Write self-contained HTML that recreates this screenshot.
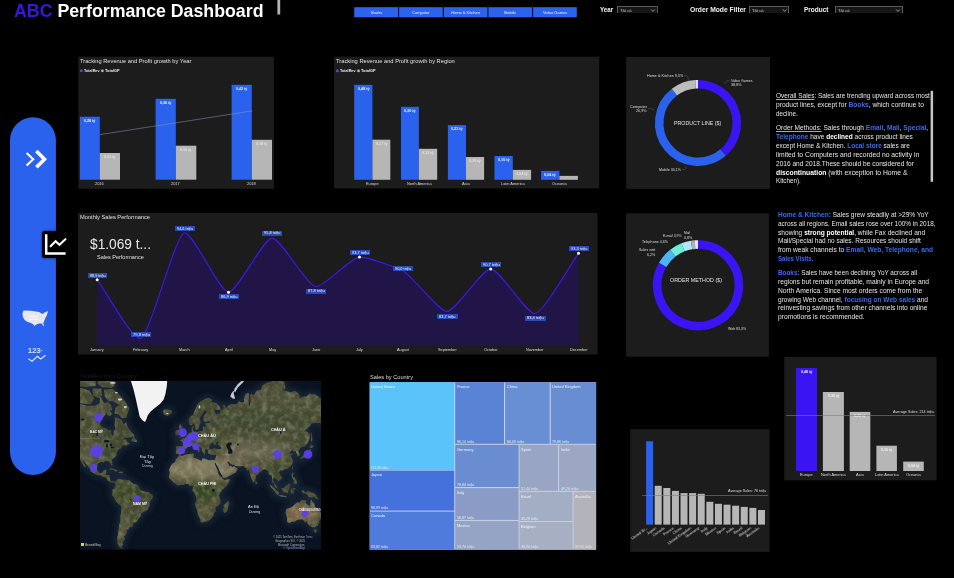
<!DOCTYPE html><html><head><meta charset="utf-8"><title>ABC Performance Dashboard</title><style>
html,body{margin:0;padding:0;background:#000;}body{width:954px;height:578px;position:relative;overflow:hidden;font-family:"Liberation Sans", sans-serif;}
.t{position:absolute;white-space:nowrap;display:inline-block;transform-origin:0 50%;line-height:1.2;}
</style></head><body>
<svg style="position:absolute;left:0;top:0" width="954" height="578"><rect x="277.40" y="0.00" width="2.80" height="14.50" fill="#b4b4b4"/><rect x="354.20" y="7.20" width="44.00" height="10.10" fill="#2b62ee"/><rect x="399.10" y="7.20" width="43.70" height="10.10" fill="#2b62ee"/><rect x="443.80" y="7.20" width="43.70" height="10.10" fill="#2b62ee"/><rect x="488.40" y="7.20" width="43.70" height="10.10" fill="#2b62ee"/><rect x="533.10" y="7.20" width="43.70" height="10.10" fill="#2b62ee"/></svg>
<div style="position:absolute;left:616.9px;top:6.4px;width:40.700000000000045px;height:6.6px;box-sizing:border-box;border:1px solid #5a5a5a;border-bottom:none;background:#161616"></div>
<div style="position:absolute;left:748.9px;top:6.4px;width:40.30000000000007px;height:6.6px;box-sizing:border-box;border:1px solid #5a5a5a;border-bottom:none;background:#161616"></div>
<div style="position:absolute;left:835px;top:6.4px;width:67.60000000000002px;height:6.6px;box-sizing:border-box;border:1px solid #5a5a5a;border-bottom:none;background:#161616"></div>
<svg style="position:absolute;left:0;top:0" width="954" height="578"><rect x="10" y="117.3" width="45.9" height="357.6" rx="22.95" fill="#2a62ee"/></svg>
<div style="position:absolute;left:41.9px;top:231.2px;width:28.4px;height:26.4px;border-radius:2.5px;background:#000;box-shadow:0 0 2.5px rgba(0,0,20,0.7)"></div>
<svg style="position:absolute;left:0;top:0" width="954" height="578"><rect x="78.30" y="56.70" width="195.60" height="132.10" fill="#1c1c1c"/></svg>
<svg style="position:absolute;left:0;top:0" width="954" height="578"><circle cx="81.3" cy="70.8" r="1.4" fill="#2a62ee"/><circle cx="102.4" cy="70.8" r="1.4" fill="#b6b6b6"/></svg>
<svg style="position:absolute;left:0;top:0" width="954" height="578"><rect x="79.90" y="116.70" width="19.90" height="63.00" fill="#2a62ee"/><rect x="99.80" y="153.00" width="20.20" height="26.70" fill="#b6b6b6"/><rect x="155.60" y="98.80" width="20.20" height="80.90" fill="#2a62ee"/><rect x="175.80" y="145.70" width="20.50" height="34.00" fill="#b6b6b6"/><rect x="231.60" y="84.80" width="20.20" height="94.90" fill="#2a62ee"/><rect x="251.80" y="139.80" width="20.20" height="39.90" fill="#b6b6b6"/><rect x="334.10" y="56.70" width="265.10" height="131.70" fill="#1c1c1c"/></svg>
<svg style="position:absolute;left:0;top:0" width="954" height="578"><circle cx="337.4" cy="70.9" r="1.4" fill="#2a62ee"/><circle cx="358.5" cy="70.9" r="1.4" fill="#b6b6b6"/></svg>
<svg style="position:absolute;left:0;top:0" width="954" height="578"><rect x="354.20" y="84.80" width="18.20" height="95.00" fill="#2a62ee"/><rect x="372.40" y="139.70" width="17.90" height="40.10" fill="#b6b6b6"/><rect x="401.00" y="106.80" width="17.90" height="73.00" fill="#2a62ee"/><rect x="418.90" y="148.80" width="18.30" height="31.00" fill="#b6b6b6"/><rect x="447.90" y="125.10" width="18.10" height="54.70" fill="#2a62ee"/><rect x="466.00" y="157.00" width="18.10" height="22.80" fill="#b6b6b6"/><rect x="494.50" y="156.00" width="18.30" height="23.80" fill="#2a62ee"/><rect x="512.80" y="169.90" width="18.30" height="9.90" fill="#b6b6b6"/><rect x="541.10" y="170.90" width="18.30" height="8.90" fill="#2a62ee"/><rect x="559.40" y="175.90" width="18.50" height="3.90" fill="#b6b6b6"/><rect x="626.20" y="57.00" width="143.80" height="131.90" fill="#1c1c1c"/></svg>
<svg style="position:absolute;left:0;top:0" width="954" height="578"><path d="M698.00,84.20 A38.8,38.8 0 0 1 723.10,152.59" fill="none" stroke="#3a14f2" stroke-width="8.5"/><path d="M723.10,152.59 A38.8,38.8 0 1 1 674.38,92.22" fill="none" stroke="#2a62ee" stroke-width="8.5"/><path d="M674.38,92.22 A38.8,38.8 0 0 1 695.56,84.28" fill="none" stroke="#bcbcbc" stroke-width="8.5"/><path d="M695.56,84.28 A38.8,38.8 0 0 1 698.00,84.20" fill="none" stroke="#e4defa" stroke-width="8.5"/></svg>
<svg style="position:absolute;left:0;top:0" width="954" height="578"><rect x="626.10" y="213.30" width="142.80" height="143.40" fill="#1c1c1c"/></svg>
<svg style="position:absolute;left:0;top:0" width="954" height="578"><path d="M698.00,244.50 A40.8,40.8 0 1 1 662.67,264.90" fill="none" stroke="#3a14f2" stroke-width="8.6"/><path d="M662.67,264.90 A40.8,40.8 0 0 1 672.88,253.15" fill="none" stroke="#4db4f4" stroke-width="8.6"/><path d="M672.88,253.15 A40.8,40.8 0 0 1 683.05,247.34" fill="none" stroke="#6eecd8" stroke-width="8.6"/><path d="M683.05,247.34 A40.8,40.8 0 0 1 691.62,245.00" fill="none" stroke="#b2e6fc" stroke-width="8.6"/><path d="M691.62,245.00 A40.8,40.8 0 0 1 695.01,244.61" fill="none" stroke="#b0b0b0" stroke-width="8.6"/><path d="M695.01,244.61 A40.8,40.8 0 0 1 698.00,244.50" fill="none" stroke="#ebe6fb" stroke-width="8.6"/></svg>
<svg style="position:absolute;left:0;top:0" width="954" height="578"><rect x="930.60" y="90.80" width="2.50" height="91.00" fill="#c6c6c6"/><rect x="77.90" y="212.90" width="519.70" height="141.60" fill="#1c1c1c"/></svg>
<svg style="position:absolute;left:0;top:0" width="954" height="578"><path d="M97.2,279.7 C105.80,291.48 131.60,338.60 140.20,338.60 C149.08,338.60 175.72,232.70 184.60,232.70 C193.38,232.70 219.72,292.20 228.50,292.20 C237.22,292.20 263.38,238.10 272.10,238.10 C280.92,238.10 307.38,286.80 316.20,286.80 C324.86,286.80 350.84,257.10 359.50,257.10 C368.22,257.10 394.38,266.87 403.10,271.00 C411.88,275.16 438.22,311.40 447.00,311.40 C455.74,311.40 481.96,268.90 490.70,268.90 C499.48,268.90 525.82,313.50 534.60,313.50 C543.38,313.50 569.72,265.34 578.50,253.30 L578.5,345.5 L97.2,345.5 Z" fill="#211548"/><path d="M97.2,279.7 C105.80,291.48 131.60,338.60 140.20,338.60 C149.08,338.60 175.72,232.70 184.60,232.70 C193.38,232.70 219.72,292.20 228.50,292.20 C237.22,292.20 263.38,238.10 272.10,238.10 C280.92,238.10 307.38,286.80 316.20,286.80 C324.86,286.80 350.84,257.10 359.50,257.10 C368.22,257.10 394.38,266.87 403.10,271.00 C411.88,275.16 438.22,311.40 447.00,311.40 C455.74,311.40 481.96,268.90 490.70,268.90 C499.48,268.90 525.82,313.50 534.60,313.50 C543.38,313.50 569.72,265.34 578.50,253.30" fill="none" stroke="#3d18f0" stroke-width="1.1"/><circle cx="97.2" cy="279.7" r="1.5" fill="#fff"/><circle cx="228.5" cy="292.2" r="1.5" fill="#fff"/><circle cx="359.5" cy="257.1" r="1.5" fill="#fff"/><circle cx="490.7" cy="268.9" r="1.5" fill="#fff"/><circle cx="578.5" cy="253.3" r="1.5" fill="#fff"/></svg>
<svg style="position:absolute;left:79.5px;top:381px" width="241.0" height="168.60000000000002" viewBox="0 0 241.0 168.60000000000002"><defs>
<filter id="b1" x="-10%" y="-10%" width="120%" height="120%"><feGaussianBlur stdDeviation="0.7"/></filter>
<filter id="b4" x="-50%" y="-50%" width="200%" height="200%"><feGaussianBlur stdDeviation="5"/></filter>
<filter id="b2" x="-50%" y="-50%" width="200%" height="200%"><feGaussianBlur stdDeviation="2.5"/></filter>
<filter id="halo" x="-20%" y="-20%" width="140%" height="140%"><feGaussianBlur stdDeviation="3.2"/></filter>
<filter id="noise" x="0" y="0" width="100%" height="100%"><feTurbulence type="fractalNoise" baseFrequency="0.16" numOctaves="3" seed="7"/><feColorMatrix type="matrix" values="0 0 0 0 0.55  0 0 0 0 0.55  0 0 0 0 0.4  1.6 1.6 0 0 -1.35"/></filter>
<clipPath id="land"><path d="M-20.7,19.7 L-7.3,19.7 L1.6,23.5 L7.8,24.7 L15.0,24.7 L19.5,22.2 L20.3,14.2 L23.9,22.2 L28.4,21.0 L31.1,24.7 L32.0,29.3 L27.5,29.3 L25.7,33.5 L21.2,38.4 L19.9,43.4 L22.1,46.2 L25.7,47.1 L28.4,49.0 L31.1,49.4 L31.1,52.5 L32.8,55.0 L33.7,53.9 L33.7,50.2 L35.5,47.9 L34.6,43.7 L35.1,39.3 L34.6,36.5 L38.2,36.9 L41.8,39.3 L43.6,43.7 L46.2,41.1 L47.1,44.6 L48.9,47.9 L50.7,50.2 L53.4,53.2 L54.3,54.7 L50.7,56.4 L45.3,56.5 L42.7,58.8 L46.2,58.2 L46.7,60.8 L49.8,62.1 L50.7,62.1 L47.1,64.0 L45.3,65.3 L44.5,63.4 L41.8,65.3 L41.3,67.1 L38.2,68.8 L36.9,71.8 L36.4,74.5 L34.6,76.2 L32.0,78.8 L32.6,83.4 L32.4,85.2 L31.5,84.6 L30.3,82.4 L29.3,80.4 L27.5,80.1 L24.8,80.2 L23.9,81.4 L21.2,80.7 L17.7,82.4 L17.2,85.4 L17.0,88.4 L18.6,91.2 L19.9,92.0 L22.6,91.7 L23.5,89.3 L26.6,88.8 L26.1,92.2 L25.3,94.0 L29.3,94.2 L29.9,97.7 L29.7,99.1 L32.0,100.6 L33.3,100.0 L35.1,100.9 L34.2,101.8 L32.8,101.8 L30.2,101.1 L27.9,99.5 L26.1,96.8 L23.0,95.9 L20.3,94.0 L17.7,94.2 L14.1,92.6 L10.5,90.3 L10.1,87.9 L7.8,84.9 L6.1,82.9 L3.8,80.4 L2.0,78.8 L3.4,81.4 L6.1,86.4 L4.3,85.4 L2.0,81.9 L0.7,79.4 L-0.4,77.6 L-2.9,75.6 L-4.7,72.9 L-6.4,69.5 L-6.4,62.1 L-5.6,58.8 L-7.3,56.8 L-11.8,49.4 L-16.3,42.9 L-20.7,41.1 Z M23.9,8.7 L32.8,8.1 L40.0,14.2 L44.5,19.7 L49.4,27.0 L48.0,31.8 L46.2,37.0 L41.8,36.9 L38.2,32.9 L34.6,32.5 L35.5,27.0 L39.1,24.0 L33.7,20.2 L28.4,20.2 L24.8,15.6 Z M-8.2,6.4 L1.6,7.1 L9.6,9.7 L14.1,17.0 L10.5,23.2 L0.7,22.2 L-8.2,15.6 Z M17.7,-2.6 L34.6,-2.6 L34.6,4.7 L31.1,6.8 L22.1,6.1 L17.7,3.0 Z M-7.3,-2.6 L15.0,-2.6 L15.9,5.1 L6.1,6.1 L-6.4,4.1 Z M12.3,7.4 L21.2,7.4 L22.1,14.8 L18.6,17.0 L13.2,14.8 Z M26.6,30.3 L29.3,29.3 L32.0,32.5 L30.2,35.1 L27.0,34.1 Z M51.6,59.9 L54.3,60.8 L57.0,61.2 L57.2,59.5 L54.7,57.1 L54.3,54.7 L52.9,56.1 L51.6,59.5 Z M82.9,30.3 L84.6,28.4 L88.2,28.6 L91.3,29.3 L92.2,31.4 L90.0,33.5 L87.3,34.7 L84.2,33.5 Z M35.1,100.9 L37.3,98.6 L40.0,97.7 L40.9,98.6 L43.6,98.6 L47.1,99.1 L49.4,99.1 L50.7,100.9 L53.4,103.1 L56.1,103.3 L58.3,104.5 L59.6,107.2 L59.6,108.5 L61.4,109.4 L65.0,110.7 L68.6,111.2 L71.2,113.0 L73.0,114.8 L73.0,116.6 L71.2,118.8 L69.5,121.1 L69.5,124.4 L68.1,127.7 L66.8,129.6 L64.1,130.4 L61.0,132.6 L60.8,135.1 L58.7,137.6 L56.5,140.8 L54.3,141.9 L52.5,141.4 L53.4,143.6 L52.5,145.8 L48.9,146.4 L48.5,148.7 L46.2,148.7 L47.1,151.1 L45.8,153.6 L44.0,155.5 L45.3,157.5 L42.7,161.6 L43.1,163.8 L40.9,166.0 L43.6,167.6 L40.0,166.8 L37.8,163.1 L36.9,157.5 L38.2,152.3 L38.7,147.5 L39.1,144.1 L40.4,139.8 L40.4,135.6 L41.3,130.6 L41.5,125.3 L39.1,123.4 L36.4,121.1 L35.1,118.8 L33.7,115.7 L32.0,113.9 L32.0,112.3 L32.8,110.7 L32.1,109.4 L32.8,108.1 L34.2,107.2 L35.1,104.9 L35.1,102.2 L34.2,101.8 Z M96.2,72.9 L95.8,71.0 L96.4,68.3 L96.0,65.9 L97.1,65.0 L100.7,65.3 L102.7,65.4 L103.2,62.8 L102.1,60.4 L100.1,59.1 L102.9,58.6 L102.8,57.3 L104.5,57.5 L105.7,56.1 L107.0,55.0 L108.3,53.2 L108.8,52.0 L110.5,51.7 L111.9,51.0 L111.6,48.7 L111.6,46.2 L113.7,45.1 L113.2,47.9 L113.2,50.2 L114.1,51.0 L115.4,50.5 L116.8,51.0 L118.6,50.5 L120.8,49.9 L121.7,50.4 L123.0,49.4 L123.0,46.2 L123.9,45.3 L125.3,46.2 L126.0,44.1 L125.3,42.5 L127.5,42.0 L129.3,41.8 L131.1,41.1 L129.7,40.2 L126.6,40.8 L124.4,41.1 L123.3,39.3 L123.5,35.5 L126.6,31.4 L126.9,30.3 L123.9,29.7 L123.0,32.5 L119.9,36.5 L119.6,39.3 L120.8,41.1 L119.0,45.4 L118.6,47.5 L117.1,48.7 L115.9,48.8 L115.4,47.1 L114.4,43.7 L113.7,42.3 L111.4,44.6 L109.6,43.7 L108.8,41.1 L108.8,37.4 L110.5,35.5 L113.2,33.5 L115.0,29.3 L116.8,24.7 L119.5,21.0 L123.0,19.2 L126.6,17.0 L129.3,17.0 L132.0,18.9 L131.1,21.0 L133.8,21.5 L136.4,22.2 L140.0,25.9 L140.9,28.2 L138.2,29.3 L133.8,28.2 L135.1,31.4 L136.9,33.5 L138.2,32.5 L140.0,32.0 L140.5,29.3 L142.7,28.6 L143.6,27.0 L143.1,23.5 L145.4,24.7 L145.8,27.5 L148.0,24.7 L151.6,22.7 L155.2,23.5 L157.9,22.2 L158.8,20.2 L162.3,21.7 L164.1,21.0 L164.1,17.0 L165.5,12.7 L169.0,12.1 L169.0,17.0 L168.6,23.5 L169.9,24.7 L170.4,19.7 L169.9,14.2 L171.3,12.7 L173.9,14.2 L176.6,9.7 L181.1,8.7 L182.0,4.7 L186.4,1.9 L191.8,0.4 L197.2,-4.7 L199.8,-0.7 L204.3,1.2 L205.6,8.1 L202.5,8.1 L205.2,9.7 L210.6,11.2 L215.0,9.7 L218.6,12.7 L220.4,17.0 L223.1,15.6 L226.6,15.6 L229.3,12.7 L234.7,13.3 L238.2,15.6 L240.9,17.6 L245.4,18.4 L247.2,21.0 L256.1,22.2 L265.0,24.7 L265.0,31.4 L262.3,36.5 L256.1,41.1 L249.8,44.6 L249.0,47.9 L247.2,52.5 L244.0,55.4 L243.1,49.4 L243.1,46.2 L245.4,43.7 L247.2,40.2 L249.8,37.4 L247.2,38.4 L244.0,39.3 L241.8,42.0 L237.3,42.0 L232.0,42.3 L228.4,46.2 L225.3,49.9 L227.5,51.0 L229.8,52.5 L230.2,54.7 L229.3,58.8 L227.5,62.1 L224.8,65.3 L222.2,65.9 L220.8,66.5 L219.9,68.3 L218.3,69.7 L219.8,72.9 L219.5,74.9 L217.3,75.6 L217.1,72.9 L215.9,71.8 L215.9,69.9 L213.0,70.6 L212.8,68.6 L210.6,70.6 L209.4,71.2 L210.6,72.7 L213.5,72.6 L211.4,74.0 L211.0,75.1 L212.3,78.3 L213.2,79.9 L212.8,81.9 L211.4,83.9 L209.7,85.9 L207.9,87.4 L205.6,88.2 L203.4,88.8 L202.2,90.0 L201.0,88.7 L199.6,90.0 L198.7,91.4 L199.8,93.3 L201.6,95.4 L201.9,97.7 L199.8,99.1 L198.3,100.6 L197.9,99.5 L196.3,98.6 L194.5,96.8 L193.6,96.5 L192.9,99.1 L193.9,101.3 L194.9,102.7 L196.4,104.5 L197.2,107.2 L196.7,107.3 L194.7,105.8 L193.9,103.1 L192.2,101.2 L192.2,97.7 L191.4,93.6 L189.6,94.0 L188.5,92.6 L188.2,90.7 L186.4,88.8 L185.5,87.9 L183.8,88.5 L182.0,89.0 L181.5,90.3 L180.2,90.7 L177.8,93.6 L176.0,94.5 L175.7,96.5 L175.5,99.3 L173.9,101.1 L173.0,101.1 L172.2,99.1 L170.8,96.3 L169.9,93.6 L169.3,91.2 L169.2,89.3 L167.2,89.5 L165.9,88.1 L167.1,87.4 L164.6,86.6 L163.7,85.1 L159.7,85.2 L155.5,84.9 L154.7,83.4 L153.0,83.8 L150.3,82.5 L148.9,80.4 L147.6,80.4 L147.2,81.4 L148.9,83.8 L149.4,85.4 L150.1,86.1 L150.4,84.6 L152.5,86.2 L154.3,84.9 L154.7,84.1 L154.7,85.9 L156.7,86.9 L157.7,88.0 L155.9,91.2 L153.4,92.8 L150.7,94.0 L147.6,95.9 L144.5,97.0 L143.1,97.1 L142.4,94.9 L140.9,92.2 L139.1,89.0 L138.7,86.9 L136.0,82.6 L135.4,81.1 L134.9,82.4 L134.2,82.2 L133.3,80.5 L133.1,79.1 L134.9,79.0 L135.5,77.2 L136.3,74.5 L136.4,73.2 L134.6,73.7 L132.9,73.4 L131.5,73.6 L130.2,73.3 L128.8,72.9 L127.8,71.2 L128.0,70.0 L127.7,69.1 L130.2,68.8 L130.5,68.1 L132.4,67.9 L134.2,67.1 L136.0,67.5 L137.3,68.3 L140.0,68.3 L141.3,67.6 L141.3,66.4 L139.6,65.0 L137.8,63.7 L137.8,62.8 L138.5,61.9 L139.1,60.6 L137.3,60.8 L135.5,61.9 L136.9,63.0 L135.5,63.9 L134.2,63.9 L133.6,62.5 L132.4,61.4 L131.5,62.1 L130.8,63.0 L129.8,64.7 L129.2,66.4 L129.5,67.7 L130.2,68.2 L128.8,68.6 L127.7,68.5 L125.7,68.5 L125.3,69.2 L124.6,69.2 L125.1,70.6 L125.7,71.5 L124.8,72.3 L124.8,73.4 L124.2,73.4 L123.5,72.3 L123.0,71.0 L122.0,69.5 L121.7,67.5 L120.8,66.5 L119.0,65.3 L117.7,63.9 L117.1,63.1 L116.5,62.6 L115.3,63.0 L115.4,64.4 L116.4,65.3 L117.2,66.9 L118.6,67.3 L120.8,69.2 L119.5,68.9 L119.1,70.0 L119.5,70.7 L118.6,71.8 L118.3,70.7 L118.1,69.5 L116.8,68.5 L115.4,67.7 L114.1,66.5 L113.5,65.3 L112.3,64.3 L111.0,64.9 L109.6,65.8 L107.9,65.4 L107.1,66.5 L107.0,67.5 L105.0,68.3 L104.1,70.0 L103.8,71.3 L102.5,73.1 L100.3,73.2 L99.4,74.0 L98.7,73.1 L97.6,72.7 Z M99.4,56.8 L101.6,56.1 L105.4,55.1 L105.8,52.9 L104.6,52.5 L104.1,50.5 L102.9,49.0 L102.3,47.9 L102.5,45.4 L100.7,45.1 L101.4,43.6 L99.8,43.6 L98.9,45.4 L99.4,47.9 L99.8,49.4 L101.4,49.6 L101.6,51.7 L100.3,52.2 L100.5,53.5 L99.6,54.2 L101.4,54.8 L100.3,55.4 Z M95.4,54.5 L97.1,54.5 L98.7,53.7 L98.9,51.7 L99.4,50.2 L98.5,49.1 L97.0,49.1 L95.4,50.7 L95.5,52.0 L96.0,53.1 Z M99.1,74.2 L102.5,74.9 L105.2,73.4 L108.8,73.1 L113.2,72.6 L114.1,73.1 L113.4,75.9 L114.1,76.8 L117.7,78.0 L121.3,80.1 L122.1,79.4 L122.1,77.8 L124.8,77.6 L126.6,78.6 L130.2,79.5 L132.0,78.8 L133.1,79.1 L133.3,80.5 L134.2,82.4 L136.0,86.4 L137.3,89.3 L137.6,91.4 L139.1,94.5 L140.9,95.9 L142.9,97.7 L142.7,98.2 L144.5,99.0 L147.2,98.4 L150.0,97.9 L149.8,99.2 L148.0,102.7 L146.7,104.9 L143.6,107.6 L141.3,110.1 L140.0,112.1 L139.1,114.3 L139.6,116.6 L140.5,117.9 L140.5,121.6 L139.1,123.9 L136.9,125.3 L135.5,126.7 L136.0,130.1 L133.8,132.1 L133.6,134.1 L132.0,136.4 L130.2,138.7 L127.5,140.6 L123.9,141.1 L122.0,141.7 L120.6,140.8 L120.4,138.7 L119.0,135.4 L117.7,133.1 L117.2,129.1 L115.4,125.3 L114.8,123.0 L116.3,119.3 L116.2,116.6 L115.2,113.9 L114.6,112.1 L112.6,109.8 L112.8,107.6 L112.9,105.6 L112.1,104.5 L109.6,104.7 L108.3,102.9 L105.6,103.0 L102.9,104.0 L100.7,103.8 L97.6,104.6 L95.8,103.1 L93.6,101.5 L92.4,100.2 L90.9,98.6 L89.4,97.2 L88.8,95.2 L89.6,93.8 L89.8,91.2 L89.1,89.3 L90.0,86.7 L91.3,84.2 L92.7,82.6 L94.5,81.6 L95.5,80.4 L95.6,78.8 L97.6,76.5 L98.7,75.1 Z M148.3,119.3 L149.3,122.5 L148.5,124.4 L147.0,130.6 L144.9,132.1 L143.6,131.1 L143.0,128.6 L143.8,126.3 L143.6,123.9 L145.4,122.8 L147.2,120.9 Z M206.1,128.6 L205.6,132.1 L207.0,136.6 L207.0,141.1 L209.7,141.9 L211.4,140.8 L214.6,140.8 L216.8,139.0 L219.5,138.4 L221.7,138.2 L223.9,139.5 L225.3,141.7 L227.1,139.8 L227.5,142.5 L229.3,144.7 L232.0,146.0 L234.7,146.4 L236.4,145.0 L238.2,144.4 L239.1,140.8 L240.9,137.6 L241.4,134.6 L240.9,131.9 L239.0,129.4 L237.2,126.9 L234.9,125.8 L234.2,122.1 L232.4,121.3 L231.5,118.2 L230.6,120.2 L230.2,124.4 L228.4,124.4 L226.6,122.8 L225.3,122.1 L226.4,119.5 L224.8,119.5 L222.2,118.7 L220.4,120.2 L219.5,122.1 L217.7,121.1 L215.9,122.5 L214.1,123.9 L213.2,125.3 L210.6,126.7 L207.9,127.5 Z M233.5,148.5 L236.6,148.6 L236.4,151.1 L235.1,151.9 L234.0,150.5 Z M189.4,103.5 L191.8,104.9 L194.0,106.7 L196.7,109.4 L198.9,111.2 L198.8,113.7 L197.2,113.4 L195.4,112.1 L194.0,109.8 L192.2,107.6 L190.5,105.8 Z M198.2,114.6 L200.7,114.3 L203.4,114.4 L206.5,115.2 L206.5,116.3 L202.5,115.8 L199.4,115.1 Z M201.6,106.9 L203.4,107.2 L205.2,105.6 L207.4,104.0 L208.8,102.2 L210.6,103.8 L209.7,106.3 L209.7,107.8 L208.3,109.8 L207.9,112.1 L206.1,111.6 L203.9,111.4 L202.5,109.8 L201.6,108.1 Z M211.0,108.1 L212.3,107.4 L215.5,107.3 L215.0,108.2 L212.3,108.2 L212.3,109.4 L214.1,109.4 L213.2,110.7 L213.9,112.5 L212.8,112.8 L211.9,111.2 L211.4,113.4 L211.0,112.1 L210.6,110.7 Z M221.3,109.2 L223.9,109.2 L224.8,111.4 L227.5,110.1 L230.2,110.8 L233.8,112.3 L236.0,113.9 L236.4,115.7 L238.7,117.7 L236.4,117.7 L233.8,115.7 L232.0,116.6 L230.2,116.6 L228.4,115.7 L227.5,113.7 L224.8,112.5 L223.1,112.1 L222.2,110.9 Z M211.9,91.7 L213.4,91.8 L213.2,94.0 L212.8,95.9 L215.0,96.8 L215.0,97.2 L216.4,98.6 L216.4,99.7 L217.3,101.3 L216.8,102.9 L215.0,102.7 L213.2,102.2 L214.4,100.8 L213.7,99.5 L212.8,97.7 L211.9,95.9 L211.4,94.0 Z M220.4,77.2 L221.3,79.0 L222.2,76.9 L224.8,76.6 L226.6,75.5 L228.4,75.1 L230.0,74.3 L230.2,71.8 L231.1,69.9 L230.6,67.9 L229.5,68.3 L229.3,70.0 L228.4,71.8 L226.6,72.9 L225.7,74.0 L223.1,74.5 L221.3,75.9 Z M229.3,67.1 L230.2,65.6 L230.8,62.9 L232.0,64.3 L234.0,65.0 L232.9,65.9 L232.0,67.1 L230.2,66.5 Z M231.1,62.1 L232.4,58.2 L232.0,53.9 L231.5,51.0 L231.1,52.5 L231.1,56.8 L230.9,59.5 Z M211.7,87.9 L212.3,85.4 L213.2,85.4 L212.3,88.4 Z M175.5,99.9 L176.9,100.9 L177.3,102.2 L176.2,103.1 L175.5,102.2 Z M28.4,88.4 L31.1,87.2 L33.7,87.9 L37.3,89.6 L38.0,90.1 L35.1,90.5 L35.1,89.8 L32.8,88.6 L30.2,88.4 Z M37.8,91.7 L40.0,90.4 L42.7,90.7 L43.2,91.7 L40.9,92.2 Z"/></clipPath>
</defs><rect width="241.0" height="168.60000000000002" fill="#0a1321"/><path d="M-20.7,19.7 L-7.3,19.7 L1.6,23.5 L7.8,24.7 L15.0,24.7 L19.5,22.2 L20.3,14.2 L23.9,22.2 L28.4,21.0 L31.1,24.7 L32.0,29.3 L27.5,29.3 L25.7,33.5 L21.2,38.4 L19.9,43.4 L22.1,46.2 L25.7,47.1 L28.4,49.0 L31.1,49.4 L31.1,52.5 L32.8,55.0 L33.7,53.9 L33.7,50.2 L35.5,47.9 L34.6,43.7 L35.1,39.3 L34.6,36.5 L38.2,36.9 L41.8,39.3 L43.6,43.7 L46.2,41.1 L47.1,44.6 L48.9,47.9 L50.7,50.2 L53.4,53.2 L54.3,54.7 L50.7,56.4 L45.3,56.5 L42.7,58.8 L46.2,58.2 L46.7,60.8 L49.8,62.1 L50.7,62.1 L47.1,64.0 L45.3,65.3 L44.5,63.4 L41.8,65.3 L41.3,67.1 L38.2,68.8 L36.9,71.8 L36.4,74.5 L34.6,76.2 L32.0,78.8 L32.6,83.4 L32.4,85.2 L31.5,84.6 L30.3,82.4 L29.3,80.4 L27.5,80.1 L24.8,80.2 L23.9,81.4 L21.2,80.7 L17.7,82.4 L17.2,85.4 L17.0,88.4 L18.6,91.2 L19.9,92.0 L22.6,91.7 L23.5,89.3 L26.6,88.8 L26.1,92.2 L25.3,94.0 L29.3,94.2 L29.9,97.7 L29.7,99.1 L32.0,100.6 L33.3,100.0 L35.1,100.9 L34.2,101.8 L32.8,101.8 L30.2,101.1 L27.9,99.5 L26.1,96.8 L23.0,95.9 L20.3,94.0 L17.7,94.2 L14.1,92.6 L10.5,90.3 L10.1,87.9 L7.8,84.9 L6.1,82.9 L3.8,80.4 L2.0,78.8 L3.4,81.4 L6.1,86.4 L4.3,85.4 L2.0,81.9 L0.7,79.4 L-0.4,77.6 L-2.9,75.6 L-4.7,72.9 L-6.4,69.5 L-6.4,62.1 L-5.6,58.8 L-7.3,56.8 L-11.8,49.4 L-16.3,42.9 L-20.7,41.1 Z M23.9,8.7 L32.8,8.1 L40.0,14.2 L44.5,19.7 L49.4,27.0 L48.0,31.8 L46.2,37.0 L41.8,36.9 L38.2,32.9 L34.6,32.5 L35.5,27.0 L39.1,24.0 L33.7,20.2 L28.4,20.2 L24.8,15.6 Z M-8.2,6.4 L1.6,7.1 L9.6,9.7 L14.1,17.0 L10.5,23.2 L0.7,22.2 L-8.2,15.6 Z M17.7,-2.6 L34.6,-2.6 L34.6,4.7 L31.1,6.8 L22.1,6.1 L17.7,3.0 Z M-7.3,-2.6 L15.0,-2.6 L15.9,5.1 L6.1,6.1 L-6.4,4.1 Z M12.3,7.4 L21.2,7.4 L22.1,14.8 L18.6,17.0 L13.2,14.8 Z M26.6,30.3 L29.3,29.3 L32.0,32.5 L30.2,35.1 L27.0,34.1 Z M51.6,59.9 L54.3,60.8 L57.0,61.2 L57.2,59.5 L54.7,57.1 L54.3,54.7 L52.9,56.1 L51.6,59.5 Z M82.9,30.3 L84.6,28.4 L88.2,28.6 L91.3,29.3 L92.2,31.4 L90.0,33.5 L87.3,34.7 L84.2,33.5 Z M35.1,100.9 L37.3,98.6 L40.0,97.7 L40.9,98.6 L43.6,98.6 L47.1,99.1 L49.4,99.1 L50.7,100.9 L53.4,103.1 L56.1,103.3 L58.3,104.5 L59.6,107.2 L59.6,108.5 L61.4,109.4 L65.0,110.7 L68.6,111.2 L71.2,113.0 L73.0,114.8 L73.0,116.6 L71.2,118.8 L69.5,121.1 L69.5,124.4 L68.1,127.7 L66.8,129.6 L64.1,130.4 L61.0,132.6 L60.8,135.1 L58.7,137.6 L56.5,140.8 L54.3,141.9 L52.5,141.4 L53.4,143.6 L52.5,145.8 L48.9,146.4 L48.5,148.7 L46.2,148.7 L47.1,151.1 L45.8,153.6 L44.0,155.5 L45.3,157.5 L42.7,161.6 L43.1,163.8 L40.9,166.0 L43.6,167.6 L40.0,166.8 L37.8,163.1 L36.9,157.5 L38.2,152.3 L38.7,147.5 L39.1,144.1 L40.4,139.8 L40.4,135.6 L41.3,130.6 L41.5,125.3 L39.1,123.4 L36.4,121.1 L35.1,118.8 L33.7,115.7 L32.0,113.9 L32.0,112.3 L32.8,110.7 L32.1,109.4 L32.8,108.1 L34.2,107.2 L35.1,104.9 L35.1,102.2 L34.2,101.8 Z M96.2,72.9 L95.8,71.0 L96.4,68.3 L96.0,65.9 L97.1,65.0 L100.7,65.3 L102.7,65.4 L103.2,62.8 L102.1,60.4 L100.1,59.1 L102.9,58.6 L102.8,57.3 L104.5,57.5 L105.7,56.1 L107.0,55.0 L108.3,53.2 L108.8,52.0 L110.5,51.7 L111.9,51.0 L111.6,48.7 L111.6,46.2 L113.7,45.1 L113.2,47.9 L113.2,50.2 L114.1,51.0 L115.4,50.5 L116.8,51.0 L118.6,50.5 L120.8,49.9 L121.7,50.4 L123.0,49.4 L123.0,46.2 L123.9,45.3 L125.3,46.2 L126.0,44.1 L125.3,42.5 L127.5,42.0 L129.3,41.8 L131.1,41.1 L129.7,40.2 L126.6,40.8 L124.4,41.1 L123.3,39.3 L123.5,35.5 L126.6,31.4 L126.9,30.3 L123.9,29.7 L123.0,32.5 L119.9,36.5 L119.6,39.3 L120.8,41.1 L119.0,45.4 L118.6,47.5 L117.1,48.7 L115.9,48.8 L115.4,47.1 L114.4,43.7 L113.7,42.3 L111.4,44.6 L109.6,43.7 L108.8,41.1 L108.8,37.4 L110.5,35.5 L113.2,33.5 L115.0,29.3 L116.8,24.7 L119.5,21.0 L123.0,19.2 L126.6,17.0 L129.3,17.0 L132.0,18.9 L131.1,21.0 L133.8,21.5 L136.4,22.2 L140.0,25.9 L140.9,28.2 L138.2,29.3 L133.8,28.2 L135.1,31.4 L136.9,33.5 L138.2,32.5 L140.0,32.0 L140.5,29.3 L142.7,28.6 L143.6,27.0 L143.1,23.5 L145.4,24.7 L145.8,27.5 L148.0,24.7 L151.6,22.7 L155.2,23.5 L157.9,22.2 L158.8,20.2 L162.3,21.7 L164.1,21.0 L164.1,17.0 L165.5,12.7 L169.0,12.1 L169.0,17.0 L168.6,23.5 L169.9,24.7 L170.4,19.7 L169.9,14.2 L171.3,12.7 L173.9,14.2 L176.6,9.7 L181.1,8.7 L182.0,4.7 L186.4,1.9 L191.8,0.4 L197.2,-4.7 L199.8,-0.7 L204.3,1.2 L205.6,8.1 L202.5,8.1 L205.2,9.7 L210.6,11.2 L215.0,9.7 L218.6,12.7 L220.4,17.0 L223.1,15.6 L226.6,15.6 L229.3,12.7 L234.7,13.3 L238.2,15.6 L240.9,17.6 L245.4,18.4 L247.2,21.0 L256.1,22.2 L265.0,24.7 L265.0,31.4 L262.3,36.5 L256.1,41.1 L249.8,44.6 L249.0,47.9 L247.2,52.5 L244.0,55.4 L243.1,49.4 L243.1,46.2 L245.4,43.7 L247.2,40.2 L249.8,37.4 L247.2,38.4 L244.0,39.3 L241.8,42.0 L237.3,42.0 L232.0,42.3 L228.4,46.2 L225.3,49.9 L227.5,51.0 L229.8,52.5 L230.2,54.7 L229.3,58.8 L227.5,62.1 L224.8,65.3 L222.2,65.9 L220.8,66.5 L219.9,68.3 L218.3,69.7 L219.8,72.9 L219.5,74.9 L217.3,75.6 L217.1,72.9 L215.9,71.8 L215.9,69.9 L213.0,70.6 L212.8,68.6 L210.6,70.6 L209.4,71.2 L210.6,72.7 L213.5,72.6 L211.4,74.0 L211.0,75.1 L212.3,78.3 L213.2,79.9 L212.8,81.9 L211.4,83.9 L209.7,85.9 L207.9,87.4 L205.6,88.2 L203.4,88.8 L202.2,90.0 L201.0,88.7 L199.6,90.0 L198.7,91.4 L199.8,93.3 L201.6,95.4 L201.9,97.7 L199.8,99.1 L198.3,100.6 L197.9,99.5 L196.3,98.6 L194.5,96.8 L193.6,96.5 L192.9,99.1 L193.9,101.3 L194.9,102.7 L196.4,104.5 L197.2,107.2 L196.7,107.3 L194.7,105.8 L193.9,103.1 L192.2,101.2 L192.2,97.7 L191.4,93.6 L189.6,94.0 L188.5,92.6 L188.2,90.7 L186.4,88.8 L185.5,87.9 L183.8,88.5 L182.0,89.0 L181.5,90.3 L180.2,90.7 L177.8,93.6 L176.0,94.5 L175.7,96.5 L175.5,99.3 L173.9,101.1 L173.0,101.1 L172.2,99.1 L170.8,96.3 L169.9,93.6 L169.3,91.2 L169.2,89.3 L167.2,89.5 L165.9,88.1 L167.1,87.4 L164.6,86.6 L163.7,85.1 L159.7,85.2 L155.5,84.9 L154.7,83.4 L153.0,83.8 L150.3,82.5 L148.9,80.4 L147.6,80.4 L147.2,81.4 L148.9,83.8 L149.4,85.4 L150.1,86.1 L150.4,84.6 L152.5,86.2 L154.3,84.9 L154.7,84.1 L154.7,85.9 L156.7,86.9 L157.7,88.0 L155.9,91.2 L153.4,92.8 L150.7,94.0 L147.6,95.9 L144.5,97.0 L143.1,97.1 L142.4,94.9 L140.9,92.2 L139.1,89.0 L138.7,86.9 L136.0,82.6 L135.4,81.1 L134.9,82.4 L134.2,82.2 L133.3,80.5 L133.1,79.1 L134.9,79.0 L135.5,77.2 L136.3,74.5 L136.4,73.2 L134.6,73.7 L132.9,73.4 L131.5,73.6 L130.2,73.3 L128.8,72.9 L127.8,71.2 L128.0,70.0 L127.7,69.1 L130.2,68.8 L130.5,68.1 L132.4,67.9 L134.2,67.1 L136.0,67.5 L137.3,68.3 L140.0,68.3 L141.3,67.6 L141.3,66.4 L139.6,65.0 L137.8,63.7 L137.8,62.8 L138.5,61.9 L139.1,60.6 L137.3,60.8 L135.5,61.9 L136.9,63.0 L135.5,63.9 L134.2,63.9 L133.6,62.5 L132.4,61.4 L131.5,62.1 L130.8,63.0 L129.8,64.7 L129.2,66.4 L129.5,67.7 L130.2,68.2 L128.8,68.6 L127.7,68.5 L125.7,68.5 L125.3,69.2 L124.6,69.2 L125.1,70.6 L125.7,71.5 L124.8,72.3 L124.8,73.4 L124.2,73.4 L123.5,72.3 L123.0,71.0 L122.0,69.5 L121.7,67.5 L120.8,66.5 L119.0,65.3 L117.7,63.9 L117.1,63.1 L116.5,62.6 L115.3,63.0 L115.4,64.4 L116.4,65.3 L117.2,66.9 L118.6,67.3 L120.8,69.2 L119.5,68.9 L119.1,70.0 L119.5,70.7 L118.6,71.8 L118.3,70.7 L118.1,69.5 L116.8,68.5 L115.4,67.7 L114.1,66.5 L113.5,65.3 L112.3,64.3 L111.0,64.9 L109.6,65.8 L107.9,65.4 L107.1,66.5 L107.0,67.5 L105.0,68.3 L104.1,70.0 L103.8,71.3 L102.5,73.1 L100.3,73.2 L99.4,74.0 L98.7,73.1 L97.6,72.7 Z M99.4,56.8 L101.6,56.1 L105.4,55.1 L105.8,52.9 L104.6,52.5 L104.1,50.5 L102.9,49.0 L102.3,47.9 L102.5,45.4 L100.7,45.1 L101.4,43.6 L99.8,43.6 L98.9,45.4 L99.4,47.9 L99.8,49.4 L101.4,49.6 L101.6,51.7 L100.3,52.2 L100.5,53.5 L99.6,54.2 L101.4,54.8 L100.3,55.4 Z M95.4,54.5 L97.1,54.5 L98.7,53.7 L98.9,51.7 L99.4,50.2 L98.5,49.1 L97.0,49.1 L95.4,50.7 L95.5,52.0 L96.0,53.1 Z M99.1,74.2 L102.5,74.9 L105.2,73.4 L108.8,73.1 L113.2,72.6 L114.1,73.1 L113.4,75.9 L114.1,76.8 L117.7,78.0 L121.3,80.1 L122.1,79.4 L122.1,77.8 L124.8,77.6 L126.6,78.6 L130.2,79.5 L132.0,78.8 L133.1,79.1 L133.3,80.5 L134.2,82.4 L136.0,86.4 L137.3,89.3 L137.6,91.4 L139.1,94.5 L140.9,95.9 L142.9,97.7 L142.7,98.2 L144.5,99.0 L147.2,98.4 L150.0,97.9 L149.8,99.2 L148.0,102.7 L146.7,104.9 L143.6,107.6 L141.3,110.1 L140.0,112.1 L139.1,114.3 L139.6,116.6 L140.5,117.9 L140.5,121.6 L139.1,123.9 L136.9,125.3 L135.5,126.7 L136.0,130.1 L133.8,132.1 L133.6,134.1 L132.0,136.4 L130.2,138.7 L127.5,140.6 L123.9,141.1 L122.0,141.7 L120.6,140.8 L120.4,138.7 L119.0,135.4 L117.7,133.1 L117.2,129.1 L115.4,125.3 L114.8,123.0 L116.3,119.3 L116.2,116.6 L115.2,113.9 L114.6,112.1 L112.6,109.8 L112.8,107.6 L112.9,105.6 L112.1,104.5 L109.6,104.7 L108.3,102.9 L105.6,103.0 L102.9,104.0 L100.7,103.8 L97.6,104.6 L95.8,103.1 L93.6,101.5 L92.4,100.2 L90.9,98.6 L89.4,97.2 L88.8,95.2 L89.6,93.8 L89.8,91.2 L89.1,89.3 L90.0,86.7 L91.3,84.2 L92.7,82.6 L94.5,81.6 L95.5,80.4 L95.6,78.8 L97.6,76.5 L98.7,75.1 Z M148.3,119.3 L149.3,122.5 L148.5,124.4 L147.0,130.6 L144.9,132.1 L143.6,131.1 L143.0,128.6 L143.8,126.3 L143.6,123.9 L145.4,122.8 L147.2,120.9 Z M206.1,128.6 L205.6,132.1 L207.0,136.6 L207.0,141.1 L209.7,141.9 L211.4,140.8 L214.6,140.8 L216.8,139.0 L219.5,138.4 L221.7,138.2 L223.9,139.5 L225.3,141.7 L227.1,139.8 L227.5,142.5 L229.3,144.7 L232.0,146.0 L234.7,146.4 L236.4,145.0 L238.2,144.4 L239.1,140.8 L240.9,137.6 L241.4,134.6 L240.9,131.9 L239.0,129.4 L237.2,126.9 L234.9,125.8 L234.2,122.1 L232.4,121.3 L231.5,118.2 L230.6,120.2 L230.2,124.4 L228.4,124.4 L226.6,122.8 L225.3,122.1 L226.4,119.5 L224.8,119.5 L222.2,118.7 L220.4,120.2 L219.5,122.1 L217.7,121.1 L215.9,122.5 L214.1,123.9 L213.2,125.3 L210.6,126.7 L207.9,127.5 Z M233.5,148.5 L236.6,148.6 L236.4,151.1 L235.1,151.9 L234.0,150.5 Z M189.4,103.5 L191.8,104.9 L194.0,106.7 L196.7,109.4 L198.9,111.2 L198.8,113.7 L197.2,113.4 L195.4,112.1 L194.0,109.8 L192.2,107.6 L190.5,105.8 Z M198.2,114.6 L200.7,114.3 L203.4,114.4 L206.5,115.2 L206.5,116.3 L202.5,115.8 L199.4,115.1 Z M201.6,106.9 L203.4,107.2 L205.2,105.6 L207.4,104.0 L208.8,102.2 L210.6,103.8 L209.7,106.3 L209.7,107.8 L208.3,109.8 L207.9,112.1 L206.1,111.6 L203.9,111.4 L202.5,109.8 L201.6,108.1 Z M211.0,108.1 L212.3,107.4 L215.5,107.3 L215.0,108.2 L212.3,108.2 L212.3,109.4 L214.1,109.4 L213.2,110.7 L213.9,112.5 L212.8,112.8 L211.9,111.2 L211.4,113.4 L211.0,112.1 L210.6,110.7 Z M221.3,109.2 L223.9,109.2 L224.8,111.4 L227.5,110.1 L230.2,110.8 L233.8,112.3 L236.0,113.9 L236.4,115.7 L238.7,117.7 L236.4,117.7 L233.8,115.7 L232.0,116.6 L230.2,116.6 L228.4,115.7 L227.5,113.7 L224.8,112.5 L223.1,112.1 L222.2,110.9 Z M211.9,91.7 L213.4,91.8 L213.2,94.0 L212.8,95.9 L215.0,96.8 L215.0,97.2 L216.4,98.6 L216.4,99.7 L217.3,101.3 L216.8,102.9 L215.0,102.7 L213.2,102.2 L214.4,100.8 L213.7,99.5 L212.8,97.7 L211.9,95.9 L211.4,94.0 Z M220.4,77.2 L221.3,79.0 L222.2,76.9 L224.8,76.6 L226.6,75.5 L228.4,75.1 L230.0,74.3 L230.2,71.8 L231.1,69.9 L230.6,67.9 L229.5,68.3 L229.3,70.0 L228.4,71.8 L226.6,72.9 L225.7,74.0 L223.1,74.5 L221.3,75.9 Z M229.3,67.1 L230.2,65.6 L230.8,62.9 L232.0,64.3 L234.0,65.0 L232.9,65.9 L232.0,67.1 L230.2,66.5 Z M231.1,62.1 L232.4,58.2 L232.0,53.9 L231.5,51.0 L231.1,52.5 L231.1,56.8 L230.9,59.5 Z M211.7,87.9 L212.3,85.4 L213.2,85.4 L212.3,88.4 Z M175.5,99.9 L176.9,100.9 L177.3,102.2 L176.2,103.1 L175.5,102.2 Z M28.4,88.4 L31.1,87.2 L33.7,87.9 L37.3,89.6 L38.0,90.1 L35.1,90.5 L35.1,89.8 L32.8,88.6 L30.2,88.4 Z M37.8,91.7 L40.0,90.4 L42.7,90.7 L43.2,91.7 L40.9,92.2 Z" fill="#1a2c3c" stroke="#1a2c3c" stroke-width="5" filter="url(#halo)" opacity="0.9"/><g filter="url(#b1)"><path d="M-20.7,19.7 L-7.3,19.7 L1.6,23.5 L7.8,24.7 L15.0,24.7 L19.5,22.2 L20.3,14.2 L23.9,22.2 L28.4,21.0 L31.1,24.7 L32.0,29.3 L27.5,29.3 L25.7,33.5 L21.2,38.4 L19.9,43.4 L22.1,46.2 L25.7,47.1 L28.4,49.0 L31.1,49.4 L31.1,52.5 L32.8,55.0 L33.7,53.9 L33.7,50.2 L35.5,47.9 L34.6,43.7 L35.1,39.3 L34.6,36.5 L38.2,36.9 L41.8,39.3 L43.6,43.7 L46.2,41.1 L47.1,44.6 L48.9,47.9 L50.7,50.2 L53.4,53.2 L54.3,54.7 L50.7,56.4 L45.3,56.5 L42.7,58.8 L46.2,58.2 L46.7,60.8 L49.8,62.1 L50.7,62.1 L47.1,64.0 L45.3,65.3 L44.5,63.4 L41.8,65.3 L41.3,67.1 L38.2,68.8 L36.9,71.8 L36.4,74.5 L34.6,76.2 L32.0,78.8 L32.6,83.4 L32.4,85.2 L31.5,84.6 L30.3,82.4 L29.3,80.4 L27.5,80.1 L24.8,80.2 L23.9,81.4 L21.2,80.7 L17.7,82.4 L17.2,85.4 L17.0,88.4 L18.6,91.2 L19.9,92.0 L22.6,91.7 L23.5,89.3 L26.6,88.8 L26.1,92.2 L25.3,94.0 L29.3,94.2 L29.9,97.7 L29.7,99.1 L32.0,100.6 L33.3,100.0 L35.1,100.9 L34.2,101.8 L32.8,101.8 L30.2,101.1 L27.9,99.5 L26.1,96.8 L23.0,95.9 L20.3,94.0 L17.7,94.2 L14.1,92.6 L10.5,90.3 L10.1,87.9 L7.8,84.9 L6.1,82.9 L3.8,80.4 L2.0,78.8 L3.4,81.4 L6.1,86.4 L4.3,85.4 L2.0,81.9 L0.7,79.4 L-0.4,77.6 L-2.9,75.6 L-4.7,72.9 L-6.4,69.5 L-6.4,62.1 L-5.6,58.8 L-7.3,56.8 L-11.8,49.4 L-16.3,42.9 L-20.7,41.1 Z M23.9,8.7 L32.8,8.1 L40.0,14.2 L44.5,19.7 L49.4,27.0 L48.0,31.8 L46.2,37.0 L41.8,36.9 L38.2,32.9 L34.6,32.5 L35.5,27.0 L39.1,24.0 L33.7,20.2 L28.4,20.2 L24.8,15.6 Z M-8.2,6.4 L1.6,7.1 L9.6,9.7 L14.1,17.0 L10.5,23.2 L0.7,22.2 L-8.2,15.6 Z M17.7,-2.6 L34.6,-2.6 L34.6,4.7 L31.1,6.8 L22.1,6.1 L17.7,3.0 Z M-7.3,-2.6 L15.0,-2.6 L15.9,5.1 L6.1,6.1 L-6.4,4.1 Z M12.3,7.4 L21.2,7.4 L22.1,14.8 L18.6,17.0 L13.2,14.8 Z M26.6,30.3 L29.3,29.3 L32.0,32.5 L30.2,35.1 L27.0,34.1 Z M51.6,59.9 L54.3,60.8 L57.0,61.2 L57.2,59.5 L54.7,57.1 L54.3,54.7 L52.9,56.1 L51.6,59.5 Z M82.9,30.3 L84.6,28.4 L88.2,28.6 L91.3,29.3 L92.2,31.4 L90.0,33.5 L87.3,34.7 L84.2,33.5 Z M35.1,100.9 L37.3,98.6 L40.0,97.7 L40.9,98.6 L43.6,98.6 L47.1,99.1 L49.4,99.1 L50.7,100.9 L53.4,103.1 L56.1,103.3 L58.3,104.5 L59.6,107.2 L59.6,108.5 L61.4,109.4 L65.0,110.7 L68.6,111.2 L71.2,113.0 L73.0,114.8 L73.0,116.6 L71.2,118.8 L69.5,121.1 L69.5,124.4 L68.1,127.7 L66.8,129.6 L64.1,130.4 L61.0,132.6 L60.8,135.1 L58.7,137.6 L56.5,140.8 L54.3,141.9 L52.5,141.4 L53.4,143.6 L52.5,145.8 L48.9,146.4 L48.5,148.7 L46.2,148.7 L47.1,151.1 L45.8,153.6 L44.0,155.5 L45.3,157.5 L42.7,161.6 L43.1,163.8 L40.9,166.0 L43.6,167.6 L40.0,166.8 L37.8,163.1 L36.9,157.5 L38.2,152.3 L38.7,147.5 L39.1,144.1 L40.4,139.8 L40.4,135.6 L41.3,130.6 L41.5,125.3 L39.1,123.4 L36.4,121.1 L35.1,118.8 L33.7,115.7 L32.0,113.9 L32.0,112.3 L32.8,110.7 L32.1,109.4 L32.8,108.1 L34.2,107.2 L35.1,104.9 L35.1,102.2 L34.2,101.8 Z M96.2,72.9 L95.8,71.0 L96.4,68.3 L96.0,65.9 L97.1,65.0 L100.7,65.3 L102.7,65.4 L103.2,62.8 L102.1,60.4 L100.1,59.1 L102.9,58.6 L102.8,57.3 L104.5,57.5 L105.7,56.1 L107.0,55.0 L108.3,53.2 L108.8,52.0 L110.5,51.7 L111.9,51.0 L111.6,48.7 L111.6,46.2 L113.7,45.1 L113.2,47.9 L113.2,50.2 L114.1,51.0 L115.4,50.5 L116.8,51.0 L118.6,50.5 L120.8,49.9 L121.7,50.4 L123.0,49.4 L123.0,46.2 L123.9,45.3 L125.3,46.2 L126.0,44.1 L125.3,42.5 L127.5,42.0 L129.3,41.8 L131.1,41.1 L129.7,40.2 L126.6,40.8 L124.4,41.1 L123.3,39.3 L123.5,35.5 L126.6,31.4 L126.9,30.3 L123.9,29.7 L123.0,32.5 L119.9,36.5 L119.6,39.3 L120.8,41.1 L119.0,45.4 L118.6,47.5 L117.1,48.7 L115.9,48.8 L115.4,47.1 L114.4,43.7 L113.7,42.3 L111.4,44.6 L109.6,43.7 L108.8,41.1 L108.8,37.4 L110.5,35.5 L113.2,33.5 L115.0,29.3 L116.8,24.7 L119.5,21.0 L123.0,19.2 L126.6,17.0 L129.3,17.0 L132.0,18.9 L131.1,21.0 L133.8,21.5 L136.4,22.2 L140.0,25.9 L140.9,28.2 L138.2,29.3 L133.8,28.2 L135.1,31.4 L136.9,33.5 L138.2,32.5 L140.0,32.0 L140.5,29.3 L142.7,28.6 L143.6,27.0 L143.1,23.5 L145.4,24.7 L145.8,27.5 L148.0,24.7 L151.6,22.7 L155.2,23.5 L157.9,22.2 L158.8,20.2 L162.3,21.7 L164.1,21.0 L164.1,17.0 L165.5,12.7 L169.0,12.1 L169.0,17.0 L168.6,23.5 L169.9,24.7 L170.4,19.7 L169.9,14.2 L171.3,12.7 L173.9,14.2 L176.6,9.7 L181.1,8.7 L182.0,4.7 L186.4,1.9 L191.8,0.4 L197.2,-4.7 L199.8,-0.7 L204.3,1.2 L205.6,8.1 L202.5,8.1 L205.2,9.7 L210.6,11.2 L215.0,9.7 L218.6,12.7 L220.4,17.0 L223.1,15.6 L226.6,15.6 L229.3,12.7 L234.7,13.3 L238.2,15.6 L240.9,17.6 L245.4,18.4 L247.2,21.0 L256.1,22.2 L265.0,24.7 L265.0,31.4 L262.3,36.5 L256.1,41.1 L249.8,44.6 L249.0,47.9 L247.2,52.5 L244.0,55.4 L243.1,49.4 L243.1,46.2 L245.4,43.7 L247.2,40.2 L249.8,37.4 L247.2,38.4 L244.0,39.3 L241.8,42.0 L237.3,42.0 L232.0,42.3 L228.4,46.2 L225.3,49.9 L227.5,51.0 L229.8,52.5 L230.2,54.7 L229.3,58.8 L227.5,62.1 L224.8,65.3 L222.2,65.9 L220.8,66.5 L219.9,68.3 L218.3,69.7 L219.8,72.9 L219.5,74.9 L217.3,75.6 L217.1,72.9 L215.9,71.8 L215.9,69.9 L213.0,70.6 L212.8,68.6 L210.6,70.6 L209.4,71.2 L210.6,72.7 L213.5,72.6 L211.4,74.0 L211.0,75.1 L212.3,78.3 L213.2,79.9 L212.8,81.9 L211.4,83.9 L209.7,85.9 L207.9,87.4 L205.6,88.2 L203.4,88.8 L202.2,90.0 L201.0,88.7 L199.6,90.0 L198.7,91.4 L199.8,93.3 L201.6,95.4 L201.9,97.7 L199.8,99.1 L198.3,100.6 L197.9,99.5 L196.3,98.6 L194.5,96.8 L193.6,96.5 L192.9,99.1 L193.9,101.3 L194.9,102.7 L196.4,104.5 L197.2,107.2 L196.7,107.3 L194.7,105.8 L193.9,103.1 L192.2,101.2 L192.2,97.7 L191.4,93.6 L189.6,94.0 L188.5,92.6 L188.2,90.7 L186.4,88.8 L185.5,87.9 L183.8,88.5 L182.0,89.0 L181.5,90.3 L180.2,90.7 L177.8,93.6 L176.0,94.5 L175.7,96.5 L175.5,99.3 L173.9,101.1 L173.0,101.1 L172.2,99.1 L170.8,96.3 L169.9,93.6 L169.3,91.2 L169.2,89.3 L167.2,89.5 L165.9,88.1 L167.1,87.4 L164.6,86.6 L163.7,85.1 L159.7,85.2 L155.5,84.9 L154.7,83.4 L153.0,83.8 L150.3,82.5 L148.9,80.4 L147.6,80.4 L147.2,81.4 L148.9,83.8 L149.4,85.4 L150.1,86.1 L150.4,84.6 L152.5,86.2 L154.3,84.9 L154.7,84.1 L154.7,85.9 L156.7,86.9 L157.7,88.0 L155.9,91.2 L153.4,92.8 L150.7,94.0 L147.6,95.9 L144.5,97.0 L143.1,97.1 L142.4,94.9 L140.9,92.2 L139.1,89.0 L138.7,86.9 L136.0,82.6 L135.4,81.1 L134.9,82.4 L134.2,82.2 L133.3,80.5 L133.1,79.1 L134.9,79.0 L135.5,77.2 L136.3,74.5 L136.4,73.2 L134.6,73.7 L132.9,73.4 L131.5,73.6 L130.2,73.3 L128.8,72.9 L127.8,71.2 L128.0,70.0 L127.7,69.1 L130.2,68.8 L130.5,68.1 L132.4,67.9 L134.2,67.1 L136.0,67.5 L137.3,68.3 L140.0,68.3 L141.3,67.6 L141.3,66.4 L139.6,65.0 L137.8,63.7 L137.8,62.8 L138.5,61.9 L139.1,60.6 L137.3,60.8 L135.5,61.9 L136.9,63.0 L135.5,63.9 L134.2,63.9 L133.6,62.5 L132.4,61.4 L131.5,62.1 L130.8,63.0 L129.8,64.7 L129.2,66.4 L129.5,67.7 L130.2,68.2 L128.8,68.6 L127.7,68.5 L125.7,68.5 L125.3,69.2 L124.6,69.2 L125.1,70.6 L125.7,71.5 L124.8,72.3 L124.8,73.4 L124.2,73.4 L123.5,72.3 L123.0,71.0 L122.0,69.5 L121.7,67.5 L120.8,66.5 L119.0,65.3 L117.7,63.9 L117.1,63.1 L116.5,62.6 L115.3,63.0 L115.4,64.4 L116.4,65.3 L117.2,66.9 L118.6,67.3 L120.8,69.2 L119.5,68.9 L119.1,70.0 L119.5,70.7 L118.6,71.8 L118.3,70.7 L118.1,69.5 L116.8,68.5 L115.4,67.7 L114.1,66.5 L113.5,65.3 L112.3,64.3 L111.0,64.9 L109.6,65.8 L107.9,65.4 L107.1,66.5 L107.0,67.5 L105.0,68.3 L104.1,70.0 L103.8,71.3 L102.5,73.1 L100.3,73.2 L99.4,74.0 L98.7,73.1 L97.6,72.7 Z M99.4,56.8 L101.6,56.1 L105.4,55.1 L105.8,52.9 L104.6,52.5 L104.1,50.5 L102.9,49.0 L102.3,47.9 L102.5,45.4 L100.7,45.1 L101.4,43.6 L99.8,43.6 L98.9,45.4 L99.4,47.9 L99.8,49.4 L101.4,49.6 L101.6,51.7 L100.3,52.2 L100.5,53.5 L99.6,54.2 L101.4,54.8 L100.3,55.4 Z M95.4,54.5 L97.1,54.5 L98.7,53.7 L98.9,51.7 L99.4,50.2 L98.5,49.1 L97.0,49.1 L95.4,50.7 L95.5,52.0 L96.0,53.1 Z M99.1,74.2 L102.5,74.9 L105.2,73.4 L108.8,73.1 L113.2,72.6 L114.1,73.1 L113.4,75.9 L114.1,76.8 L117.7,78.0 L121.3,80.1 L122.1,79.4 L122.1,77.8 L124.8,77.6 L126.6,78.6 L130.2,79.5 L132.0,78.8 L133.1,79.1 L133.3,80.5 L134.2,82.4 L136.0,86.4 L137.3,89.3 L137.6,91.4 L139.1,94.5 L140.9,95.9 L142.9,97.7 L142.7,98.2 L144.5,99.0 L147.2,98.4 L150.0,97.9 L149.8,99.2 L148.0,102.7 L146.7,104.9 L143.6,107.6 L141.3,110.1 L140.0,112.1 L139.1,114.3 L139.6,116.6 L140.5,117.9 L140.5,121.6 L139.1,123.9 L136.9,125.3 L135.5,126.7 L136.0,130.1 L133.8,132.1 L133.6,134.1 L132.0,136.4 L130.2,138.7 L127.5,140.6 L123.9,141.1 L122.0,141.7 L120.6,140.8 L120.4,138.7 L119.0,135.4 L117.7,133.1 L117.2,129.1 L115.4,125.3 L114.8,123.0 L116.3,119.3 L116.2,116.6 L115.2,113.9 L114.6,112.1 L112.6,109.8 L112.8,107.6 L112.9,105.6 L112.1,104.5 L109.6,104.7 L108.3,102.9 L105.6,103.0 L102.9,104.0 L100.7,103.8 L97.6,104.6 L95.8,103.1 L93.6,101.5 L92.4,100.2 L90.9,98.6 L89.4,97.2 L88.8,95.2 L89.6,93.8 L89.8,91.2 L89.1,89.3 L90.0,86.7 L91.3,84.2 L92.7,82.6 L94.5,81.6 L95.5,80.4 L95.6,78.8 L97.6,76.5 L98.7,75.1 Z M148.3,119.3 L149.3,122.5 L148.5,124.4 L147.0,130.6 L144.9,132.1 L143.6,131.1 L143.0,128.6 L143.8,126.3 L143.6,123.9 L145.4,122.8 L147.2,120.9 Z M206.1,128.6 L205.6,132.1 L207.0,136.6 L207.0,141.1 L209.7,141.9 L211.4,140.8 L214.6,140.8 L216.8,139.0 L219.5,138.4 L221.7,138.2 L223.9,139.5 L225.3,141.7 L227.1,139.8 L227.5,142.5 L229.3,144.7 L232.0,146.0 L234.7,146.4 L236.4,145.0 L238.2,144.4 L239.1,140.8 L240.9,137.6 L241.4,134.6 L240.9,131.9 L239.0,129.4 L237.2,126.9 L234.9,125.8 L234.2,122.1 L232.4,121.3 L231.5,118.2 L230.6,120.2 L230.2,124.4 L228.4,124.4 L226.6,122.8 L225.3,122.1 L226.4,119.5 L224.8,119.5 L222.2,118.7 L220.4,120.2 L219.5,122.1 L217.7,121.1 L215.9,122.5 L214.1,123.9 L213.2,125.3 L210.6,126.7 L207.9,127.5 Z M233.5,148.5 L236.6,148.6 L236.4,151.1 L235.1,151.9 L234.0,150.5 Z M189.4,103.5 L191.8,104.9 L194.0,106.7 L196.7,109.4 L198.9,111.2 L198.8,113.7 L197.2,113.4 L195.4,112.1 L194.0,109.8 L192.2,107.6 L190.5,105.8 Z M198.2,114.6 L200.7,114.3 L203.4,114.4 L206.5,115.2 L206.5,116.3 L202.5,115.8 L199.4,115.1 Z M201.6,106.9 L203.4,107.2 L205.2,105.6 L207.4,104.0 L208.8,102.2 L210.6,103.8 L209.7,106.3 L209.7,107.8 L208.3,109.8 L207.9,112.1 L206.1,111.6 L203.9,111.4 L202.5,109.8 L201.6,108.1 Z M211.0,108.1 L212.3,107.4 L215.5,107.3 L215.0,108.2 L212.3,108.2 L212.3,109.4 L214.1,109.4 L213.2,110.7 L213.9,112.5 L212.8,112.8 L211.9,111.2 L211.4,113.4 L211.0,112.1 L210.6,110.7 Z M221.3,109.2 L223.9,109.2 L224.8,111.4 L227.5,110.1 L230.2,110.8 L233.8,112.3 L236.0,113.9 L236.4,115.7 L238.7,117.7 L236.4,117.7 L233.8,115.7 L232.0,116.6 L230.2,116.6 L228.4,115.7 L227.5,113.7 L224.8,112.5 L223.1,112.1 L222.2,110.9 Z M211.9,91.7 L213.4,91.8 L213.2,94.0 L212.8,95.9 L215.0,96.8 L215.0,97.2 L216.4,98.6 L216.4,99.7 L217.3,101.3 L216.8,102.9 L215.0,102.7 L213.2,102.2 L214.4,100.8 L213.7,99.5 L212.8,97.7 L211.9,95.9 L211.4,94.0 Z M220.4,77.2 L221.3,79.0 L222.2,76.9 L224.8,76.6 L226.6,75.5 L228.4,75.1 L230.0,74.3 L230.2,71.8 L231.1,69.9 L230.6,67.9 L229.5,68.3 L229.3,70.0 L228.4,71.8 L226.6,72.9 L225.7,74.0 L223.1,74.5 L221.3,75.9 Z M229.3,67.1 L230.2,65.6 L230.8,62.9 L232.0,64.3 L234.0,65.0 L232.9,65.9 L232.0,67.1 L230.2,66.5 Z M231.1,62.1 L232.4,58.2 L232.0,53.9 L231.5,51.0 L231.1,52.5 L231.1,56.8 L230.9,59.5 Z M211.7,87.9 L212.3,85.4 L213.2,85.4 L212.3,88.4 Z M175.5,99.9 L176.9,100.9 L177.3,102.2 L176.2,103.1 L175.5,102.2 Z M28.4,88.4 L31.1,87.2 L33.7,87.9 L37.3,89.6 L38.0,90.1 L35.1,90.5 L35.1,89.8 L32.8,88.6 L30.2,88.4 Z M37.8,91.7 L40.0,90.4 L42.7,90.7 L43.2,91.7 L40.9,92.2 Z" fill="#474b31"/><g clip-path="url(#land)"><ellipse cx="111.4" cy="87.4" rx="36" ry="11" fill="#7c765a" opacity="1" filter="url(#b4)"/><ellipse cx="126.6" cy="86.4" rx="20" ry="9" fill="#80785c" opacity="1" filter="url(#b4)"/><ellipse cx="145.4" cy="87.4" rx="11" ry="10" fill="#7e745a" opacity="1" filter="url(#b4)"/><ellipse cx="156.1" cy="77.2" rx="14" ry="8" fill="#6e6850" opacity="0.9" filter="url(#b4)"/><ellipse cx="160.5" cy="65.9" rx="18" ry="7" fill="#6a664e" opacity="0.9" filter="url(#b4)"/><ellipse cx="184.7" cy="71.8" rx="22" ry="8" fill="#6c6852" opacity="0.95" filter="url(#b4)"/><ellipse cx="197.2" cy="65.9" rx="12" ry="5" fill="#6a664e" opacity="0.9" filter="url(#b4)"/><ellipse cx="222.2" cy="131.6" rx="16" ry="9" fill="#7c6848" opacity="1" filter="url(#b4)"/><ellipse cx="213.2" cy="132.6" rx="8" ry="8" fill="#80694a" opacity="0.9" filter="url(#b4)"/><ellipse cx="122.1" cy="130.6" rx="7" ry="6" fill="#6a6246" opacity="0.8" filter="url(#b4)"/><ellipse cx="6.1" cy="75.1" rx="9" ry="9" fill="#625e46" opacity="0.85" filter="url(#b4)"/><ellipse cx="43.6" cy="147.5" rx="5" ry="12" fill="#5c5a42" opacity="0.7" filter="url(#b4)"/><ellipse cx="41.8" cy="126.7" rx="3" ry="12" fill="#5e5a44" opacity="0.7" filter="url(#b4)"/><ellipse cx="50.7" cy="112.1" rx="15" ry="9" fill="#34441f" opacity="0.9" filter="url(#b4)"/><ellipse cx="123.9" cy="108.5" rx="12" ry="7" fill="#33441f" opacity="0.9" filter="url(#b4)"/><ellipse cx="28.4" cy="55.4" rx="20" ry="6" fill="#38422a" opacity="0.8" filter="url(#b4)"/><ellipse cx="157.9" cy="41.1" rx="50" ry="7" fill="#3c4630" opacity="0.7" filter="url(#b4)"/><ellipse cx="202.5" cy="41.1" rx="36" ry="7" fill="#3e4832" opacity="0.7" filter="url(#b4)"/><ellipse cx="198.1" cy="86.4" rx="10" ry="7" fill="#3a4628" opacity="0.7" filter="url(#b4)"/><ellipse cx="31.1" cy="75.1" rx="6" ry="8" fill="#38482a" opacity="0.7" filter="url(#b4)"/><ellipse cx="113.2" cy="56.8" rx="10" ry="5" fill="#414c2c" opacity="0.7" filter="url(#b4)"/><ellipse cx="19.5" cy="29.3" rx="30" ry="5" fill="#55543f" opacity="0.8" filter="url(#b4)"/><ellipse cx="193.6" cy="17.0" rx="50" ry="4" fill="#55543f" opacity="0.8" filter="url(#b4)"/><ellipse cx="15.0" cy="63.4" rx="8" ry="7" fill="#545238" opacity="0.7" filter="url(#b4)"/></g><rect width="241.0" height="168.60000000000002" filter="url(#noise)" clip-path="url(#land)" opacity="0.33"/></g><path d="M146.3,63.4 L148.5,61.5 L151.6,61.5 L151.6,64.0 L149.8,64.7 L151.2,67.7 L152.5,69.5 L152.5,72.3 L149.8,73.1 L148.0,72.3 L148.5,69.5 L147.2,67.1 L146.3,65.3 Z" fill="#0c1622"/><ellipse cx="26.6" cy="60.2" rx="3" ry="1.2" fill="#0d1724"/><ellipse cx="27.0" cy="64.7" rx="1" ry="2" fill="#0d1724"/><ellipse cx="31.1" cy="64.0" rx="1.3" ry="1.6" fill="#0d1724"/><ellipse cx="32.4" cy="66.5" rx="2" ry="0.8" fill="#0d1724"/><ellipse cx="17.2" cy="53.2" rx="0.8" ry="2" fill="#0d1724"/><ellipse cx="-2.9" cy="29.3" rx="1.6" ry="1" fill="#0d1724"/><ellipse cx="2.5" cy="38.4" rx="2" ry="0.8" fill="#0d1724"/><ellipse cx="133.3" cy="109.4" rx="1.4" ry="1.4" fill="#0d1724"/><ellipse cx="200.7" cy="51.7" rx="0.7" ry="1.8" fill="#0d1724"/><ellipse cx="157.9" cy="63.4" rx="0.9" ry="1.0" fill="#0d1724"/><ellipse cx="40.0" cy="18.4" rx="2.2" ry="1" fill="#e8e8e8" opacity="0.85"/><ellipse cx="45.3" cy="25.9" rx="1.6" ry="1" fill="#e8e8e8" opacity="0.85"/><ellipse cx="32.8" cy="1.9" rx="3" ry="0.8" fill="#e8e8e8" opacity="0.85"/><ellipse cx="36.4" cy="11.8" rx="1.5" ry="0.7" fill="#e8e8e8" opacity="0.85"/><ellipse cx="119.5" cy="25.9" rx="0.8" ry="1.6" fill="#e8e8e8" opacity="0.85"/><ellipse cx="87.3" cy="32.5" rx="1.2" ry="0.6" fill="#e8e8e8" opacity="0.85"/><path d="M48.9,-16.2 L50.7,-0.7 L53.4,8.1 L55.6,17.0 L57.0,23.5 L58.3,29.3 L59.6,35.5 L62.3,39.3 L65.0,41.1 L66.3,38.4 L67.7,34.5 L70.4,30.8 L74.8,27.0 L80.2,22.7 L83.7,18.4 L85.5,12.7 L86.9,4.7 L87.3,-2.6 L87.3,-16.2 Z" fill="#f2f2f2"/><path d="M150.3,15.6 L152.5,17.6 L155.2,17.8 L153.8,12.7 L154.3,8.1 L157.9,3.0 L162.3,-0.7 L165.0,-1.9 L163.2,1.2 L157.9,6.4 L155.2,11.2 L153.4,9.7 L151.2,12.7 Z" fill="#dcdcdc" opacity="0.9"/></g><circle cx="18.5" cy="36.4" r="4.5" fill="#5b3ff0" opacity="0.9"/><circle cx="16.7" cy="70.3" r="6.4" fill="#5b3ff0" opacity="0.9"/><circle cx="13.6" cy="86.6" r="3.6" fill="#5b3ff0" opacity="0.9"/><circle cx="57.2" cy="117.7" r="3.4" fill="#5b3ff0" opacity="0.9"/><circle cx="102.6" cy="51.5" r="4.3" fill="#5b3ff0" opacity="0.9"/><circle cx="114.4" cy="55.2" r="4.3" fill="#5b3ff0" opacity="0.9"/><circle cx="109.9" cy="56.7" r="3.6" fill="#5b3ff0" opacity="0.9"/><circle cx="107.2" cy="61.7" r="4.4" fill="#5b3ff0" opacity="0.9"/><circle cx="115.9" cy="65.6" r="3.7" fill="#5b3ff0" opacity="0.9"/><circle cx="101.7" cy="69.2" r="3.6" fill="#5b3ff0" opacity="0.9"/><circle cx="197.5" cy="73.4" r="4.4" fill="#5b3ff0" opacity="0.9"/><circle cx="227.9" cy="73.4" r="4.4" fill="#5b3ff0" opacity="0.9"/><circle cx="175.5" cy="88.2" r="3.7" fill="#5b3ff0" opacity="0.9"/><circle cx="224.8" cy="132.5" r="3.4" fill="#5b3ff0" opacity="0.9"/><line x1="0" y1="57.6" x2="20" y2="57.6" stroke="#b8b8a0" stroke-width="0.4" opacity="0.7"/></svg>
<div style="position:absolute;left:81.2px;top:543.4px;width:2.8px;height:2.8px;background:#c8d86a"></div>
<svg style="position:absolute;left:0;top:0" width="954" height="578"><rect x="369.70" y="382.20" width="226.40" height="167.50" fill="#c6cee4"/><rect x="369.70" y="382.20" width="84.50" height="87.90" fill="#5ac3fa"/><rect x="369.70" y="470.60" width="84.50" height="40.00" fill="#4471dc"/><rect x="369.70" y="511.60" width="84.50" height="38.10" fill="#4e7bdc"/><rect x="455.20" y="382.20" width="48.80" height="61.60" fill="#5984d5"/><rect x="505.10" y="382.20" width="44.60" height="61.60" fill="#688ed4"/><rect x="550.80" y="382.20" width="45.30" height="61.60" fill="#688dd3"/><rect x="455.20" y="444.80" width="63.40" height="42.20" fill="#6a8dd1"/><rect x="455.20" y="488.10" width="63.40" height="31.80" fill="#8a9cc5"/><rect x="455.20" y="521.00" width="63.40" height="28.70" fill="#95a3c4"/><rect x="519.60" y="444.80" width="38.40" height="46.00" fill="#98a5c3"/><rect x="559.10" y="444.80" width="37.00" height="46.00" fill="#9ba7c3"/><rect x="519.60" y="491.90" width="53.00" height="29.10" fill="#a3adc3"/><rect x="519.60" y="522.00" width="53.00" height="27.70" fill="#a7afc3"/><rect x="573.60" y="491.90" width="22.50" height="57.80" fill="#b3b4b9"/><rect x="784.30" y="357.00" width="152.30" height="123.30" fill="#1c1c1c"/><rect x="796.00" y="368.00" width="21.00" height="103.00" fill="#3a14f2"/><rect x="822.90" y="392.00" width="21.00" height="79.00" fill="#b6b6b6"/><rect x="849.70" y="411.90" width="20.60" height="59.10" fill="#b6b6b6"/><rect x="876.40" y="445.70" width="20.50" height="25.30" fill="#b6b6b6"/><rect x="903.20" y="461.60" width="20.60" height="9.40" fill="#b6b6b6"/><rect x="630.20" y="429.20" width="139.40" height="122.70" fill="#1c1c1c"/><rect x="646.10" y="441.30" width="7.00" height="83.30" fill="#2a62ee"/><rect x="654.71" y="485.80" width="7.00" height="38.80" fill="#b6b6b6"/><rect x="663.31" y="488.00" width="7.00" height="36.60" fill="#b6b6b6"/><rect x="671.92" y="490.90" width="7.00" height="33.70" fill="#b6b6b6"/><rect x="680.52" y="493.10" width="7.00" height="31.50" fill="#b6b6b6"/><rect x="689.12" y="493.10" width="7.00" height="31.50" fill="#b6b6b6"/><rect x="697.73" y="493.80" width="7.00" height="30.80" fill="#b6b6b6"/><rect x="706.34" y="501.80" width="7.00" height="22.80" fill="#b6b6b6"/><rect x="714.94" y="503.80" width="7.00" height="20.80" fill="#b6b6b6"/><rect x="723.55" y="504.70" width="7.00" height="19.90" fill="#b6b6b6"/><rect x="732.15" y="505.70" width="7.00" height="18.90" fill="#b6b6b6"/><rect x="740.75" y="506.90" width="7.00" height="17.70" fill="#b6b6b6"/><rect x="749.36" y="507.90" width="7.00" height="16.70" fill="#b6b6b6"/><rect x="757.97" y="510.00" width="7.00" height="14.60" fill="#b6b6b6"/></svg>
<span class="t" style="left:14.20px;top:1.00px;font-size:17.6px;line-height:20px;color:#ffffff;font-weight:bold;transform:scaleX(1.0086);"><span style="color:#3a16e0">ABC</span> Performance Dashboard</span>
<span class="t" style="left:370.64px;top:10.00px;font-size:4.0px;line-height:5px;color:#e8eeff;transform:scaleX(1.0040);">Books</span>
<span class="t" style="left:412.17px;top:10.00px;font-size:4.0px;line-height:5px;color:#e8eeff;transform:scaleX(1.0040);">Computer</span>
<span class="t" style="left:451.20px;top:10.00px;font-size:4.0px;line-height:5px;color:#e8eeff;transform:scaleX(1.0040);">Home &amp; Kitchen</span>
<span class="t" style="left:504.35px;top:10.00px;font-size:4.0px;line-height:5px;color:#e8eeff;transform:scaleX(1.0040);">Mobile</span>
<span class="t" style="left:542.86px;top:10.00px;font-size:4.0px;line-height:5px;color:#e8eeff;transform:scaleX(1.0040);">Video Games</span>
<span class="t" style="left:599.50px;top:6.00px;font-size:6.6px;line-height:7px;color:#f2f2f2;font-weight:bold;transform:scaleX(0.9543);">Year</span>
<span class="t" style="left:619.50px;top:8.00px;font-size:4.2px;line-height:5px;color:#d0d0d0;transform:scaleX(1.0040);">Tất cả</span>
<span class="t" style="left:689.70px;top:6.00px;font-size:6.6px;line-height:7px;color:#f2f2f2;font-weight:bold;transform:scaleX(1.0188);">Order Mode Filter</span>
<span class="t" style="left:751.50px;top:8.00px;font-size:4.2px;line-height:5px;color:#d0d0d0;transform:scaleX(1.0040);">Tất cả</span>
<span class="t" style="left:803.80px;top:6.00px;font-size:6.6px;line-height:7px;color:#f2f2f2;font-weight:bold;transform:scaleX(0.9831);">Product</span>
<span class="t" style="left:837.60px;top:8.00px;font-size:4.2px;line-height:5px;color:#d0d0d0;transform:scaleX(1.0040);">Tất cả</span>
<span class="t" style="left:27.70px;top:346.00px;font-size:7.6px;line-height:9px;color:#d0dcff;font-weight:bold;font-family:"Liberation Mono",monospace;transform:scaleX(1.1708);">123·</span>
<span class="t" style="left:80.00px;top:58.00px;font-size:5.6px;line-height:6px;color:#e0e0e0;transform:scaleX(1.0197);">Tracking Revenue and Profit growth by Year</span>
<span class="t" style="left:83.80px;top:68.00px;font-size:4.2px;line-height:5px;color:#ececec;font-weight:bold;transform:scaleX(0.8921);">TotalRev</span>
<span class="t" style="left:104.90px;top:68.00px;font-size:4.2px;line-height:5px;color:#ececec;font-weight:bold;transform:scaleX(0.9206);">TotalGP</span>
<span class="t" style="left:84.15px;top:118.00px;font-size:4.0px;line-height:5px;color:#f0f4ff;font-weight:bold;transform:scaleX(0.9154);">0,28 tỷ</span>
<span class="t" style="left:104.20px;top:154.00px;font-size:4.0px;line-height:5px;color:#e2e2e2;font-weight:bold;transform:scaleX(0.9154);">0,13 tỷ</span>
<span class="t" style="left:95.47px;top:181.00px;font-size:3.9px;line-height:5px;color:#dcdcdc;transform:scaleX(1.0040);">2016</span>
<span class="t" style="left:160.00px;top:100.00px;font-size:4.0px;line-height:5px;color:#f0f4ff;font-weight:bold;transform:scaleX(0.9154);">0,36 tỷ</span>
<span class="t" style="left:180.35px;top:147.00px;font-size:4.0px;line-height:5px;color:#e2e2e2;font-weight:bold;transform:scaleX(0.9154);">0,16 tỷ</span>
<span class="t" style="left:171.47px;top:181.00px;font-size:3.9px;line-height:5px;color:#dcdcdc;transform:scaleX(1.0040);">2017</span>
<span class="t" style="left:236.00px;top:86.00px;font-size:4.0px;line-height:5px;color:#f0f4ff;font-weight:bold;transform:scaleX(0.9154);">0,43 tỷ</span>
<span class="t" style="left:256.20px;top:141.00px;font-size:4.0px;line-height:5px;color:#e2e2e2;font-weight:bold;transform:scaleX(0.9154);">0,18 tỷ</span>
<span class="t" style="left:247.47px;top:181.00px;font-size:3.9px;line-height:5px;color:#dcdcdc;transform:scaleX(1.0040);">2018</span>
<span class="t" style="left:336.00px;top:58.00px;font-size:5.6px;line-height:6px;color:#e0e0e0;transform:scaleX(1.0261);">Tracking Revenue and Profit growth by Region</span>
<span class="t" style="left:339.90px;top:68.00px;font-size:4.2px;line-height:5px;color:#ececec;font-weight:bold;transform:scaleX(0.8921);">TotalRev</span>
<span class="t" style="left:361.00px;top:68.00px;font-size:4.2px;line-height:5px;color:#ececec;font-weight:bold;transform:scaleX(0.9206);">TotalGP</span>
<span class="t" style="left:357.50px;top:86.00px;font-size:4.0px;line-height:5px;color:#f0f4ff;font-weight:bold;transform:scaleX(0.9315);">0,48 tỷ</span>
<span class="t" style="left:375.55px;top:141.00px;font-size:4.0px;line-height:5px;color:#e2e2e2;font-weight:bold;transform:scaleX(0.9315);">0,17 tỷ</span>
<span class="t" style="left:366.13px;top:181.00px;font-size:3.9px;line-height:5px;color:#dcdcdc;transform:scaleX(1.0040);">Europe</span>
<span class="t" style="left:404.15px;top:108.00px;font-size:4.0px;line-height:5px;color:#f0f4ff;font-weight:bold;transform:scaleX(0.9315);">0,30 tỷ</span>
<span class="t" style="left:422.25px;top:150.00px;font-size:4.0px;line-height:5px;color:#e2e2e2;font-weight:bold;transform:scaleX(0.9315);">0,13 tỷ</span>
<span class="t" style="left:406.57px;top:181.00px;font-size:3.9px;line-height:5px;color:#dcdcdc;transform:scaleX(1.0040);">North America</span>
<span class="t" style="left:451.15px;top:126.00px;font-size:4.0px;line-height:5px;color:#f0f4ff;font-weight:bold;transform:scaleX(0.9315);">0,23 tỷ</span>
<span class="t" style="left:469.25px;top:158.00px;font-size:4.0px;line-height:5px;color:#e2e2e2;font-weight:bold;transform:scaleX(0.9315);">0,10 tỷ</span>
<span class="t" style="left:462.21px;top:181.00px;font-size:3.9px;line-height:5px;color:#dcdcdc;transform:scaleX(1.0040);">Asia</span>
<span class="t" style="left:497.85px;top:157.00px;font-size:4.0px;line-height:5px;color:#f0f4ff;font-weight:bold;transform:scaleX(0.9315);">0,10 tỷ</span>
<span class="t" style="left:516.15px;top:171.00px;font-size:4.0px;line-height:5px;color:#e2e2e2;font-weight:bold;transform:scaleX(0.9315);">0,04 tỷ</span>
<span class="t" style="left:501.01px;top:181.00px;font-size:3.9px;line-height:5px;color:#dcdcdc;transform:scaleX(1.0040);">Latin America</span>
<span class="t" style="left:544.45px;top:172.00px;font-size:4.0px;line-height:5px;color:#f0f4ff;font-weight:bold;transform:scaleX(0.9315);">0,04 tỷ</span>
<span class="t" style="left:552.15px;top:181.00px;font-size:3.9px;line-height:5px;color:#dcdcdc;transform:scaleX(1.0040);">Oceania</span>
<span class="t" style="left:674.40px;top:120.00px;font-size:5.6px;line-height:6px;color:#e0e0e0;transform:scaleX(0.9452);">PRODUCT LINE ($)</span>
<span class="t" style="left:647.00px;top:74.00px;font-size:3.7px;line-height:4px;color:#dcdcdc;transform:scaleX(1.0040);">Home &amp; Kitchen 9,3%</span>
<span class="t" style="left:730.50px;top:79.00px;font-size:3.7px;line-height:4px;color:#dcdcdc;transform:scaleX(0.9649);">Video Games</span>
<span class="t" style="left:730.50px;top:83.00px;font-size:3.7px;line-height:4px;color:#dcdcdc;transform:scaleX(1.0040);">38,8%</span>
<span class="t" style="left:629.70px;top:105.00px;font-size:3.7px;line-height:4px;color:#dcdcdc;transform:scaleX(1.0492);">Computer</span>
<span class="t" style="left:636.23px;top:109.00px;font-size:3.7px;line-height:4px;color:#dcdcdc;transform:scaleX(1.0040);">20,9%</span>
<span class="t" style="left:659.00px;top:168.00px;font-size:3.7px;line-height:4px;color:#dcdcdc;transform:scaleX(0.9846);">Mobile 30,1%</span>
<span class="t" style="left:669.80px;top:277.00px;font-size:5.6px;line-height:6px;color:#e0e0e0;transform:scaleX(0.9560);">ORDER METHOD ($)</span>
<span class="t" style="left:638.80px;top:248.00px;font-size:3.6px;line-height:4px;color:#dcdcdc;transform:scaleX(1.0040);">Sales visit</span>
<span class="t" style="left:646.80px;top:253.00px;font-size:3.6px;line-height:4px;color:#dcdcdc;transform:scaleX(1.0040);">6,2%</span>
<span class="t" style="left:641.90px;top:240.00px;font-size:3.6px;line-height:4px;color:#dcdcdc;transform:scaleX(1.0040);">Telephone 4,6%</span>
<span class="t" style="left:662.90px;top:234.00px;font-size:3.6px;line-height:4px;color:#dcdcdc;transform:scaleX(0.9548);">E-mail 3,9%</span>
<span class="t" style="left:683.70px;top:231.00px;font-size:3.6px;line-height:4px;color:#dcdcdc;transform:scaleX(0.9251);">Mail</span>
<span class="t" style="left:683.70px;top:236.00px;font-size:3.6px;line-height:4px;color:#dcdcdc;transform:scaleX(1.0040);">0,8%</span>
<span class="t" style="left:728.00px;top:327.00px;font-size:3.6px;line-height:4px;color:#dcdcdc;transform:scaleX(0.9722);">Web 83,3%</span>
<span class="t" style="left:775.80px;top:92.00px;font-size:6.75px;line-height:7px;color:#e4e4e4;transform:scaleX(0.9561);"><span style="text-decoration:underline;text-decoration-thickness:0.5px;text-underline-offset:0.8px;text-decoration-color:rgba(230,230,230,0.75)">Overall Sales</span>: Sales are trending upward across most</span>
<span class="t" style="left:775.80px;top:101.00px;font-size:6.75px;line-height:7px;color:#e4e4e4;transform:scaleX(0.9853);">product lines, except for <b style="color:#3a6af0">Books</b>, which continue to</span>
<span class="t" style="left:775.80px;top:110.00px;font-size:6.75px;line-height:7px;color:#e4e4e4;transform:scaleX(0.9300);">decline.</span>
<span class="t" style="left:775.80px;top:124.00px;font-size:6.75px;line-height:7px;color:#e4e4e4;transform:scaleX(0.9723);"><span style="text-decoration:underline;text-decoration-thickness:0.5px;text-underline-offset:0.8px;text-decoration-color:rgba(230,230,230,0.75)">Order Methods:</span> Sales through <b style="color:#3a6af0">Email</b>, <b style="color:#3a6af0">Mail</b>, <b style="color:#3a6af0">Special</b>,</span>
<span class="t" style="left:775.80px;top:133.00px;font-size:6.75px;line-height:7px;color:#e4e4e4;transform:scaleX(0.9712);"><b style="color:#3a6af0">Telephone</b> have <b style="color:#fff">declined</b> across product lines</span>
<span class="t" style="left:775.80px;top:142.00px;font-size:6.75px;line-height:7px;color:#e4e4e4;transform:scaleX(0.9586);">except Home &amp; Kitchen. <b style="color:#3a6af0">Local store</b> sales are</span>
<span class="t" style="left:775.80px;top:151.00px;font-size:6.75px;line-height:7px;color:#e4e4e4;transform:scaleX(1.0044);">limited to Computers and recorded no activity in</span>
<span class="t" style="left:775.80px;top:160.00px;font-size:6.75px;line-height:7px;color:#e4e4e4;transform:scaleX(0.9747);">2016 and 2018.These should be considered for</span>
<span class="t" style="left:775.80px;top:169.00px;font-size:6.75px;line-height:7px;color:#e4e4e4;transform:scaleX(1.0040);"><b style="color:#fff">discontinuation</b> (with exception to Home &amp;</span>
<span class="t" style="left:775.80px;top:177.00px;font-size:6.75px;line-height:7px;color:#e4e4e4;transform:scaleX(0.9300);">Kitchen).</span>
<span class="t" style="left:777.80px;top:211.00px;font-size:6.6px;line-height:7px;color:#e4e4e4;transform:scaleX(0.9944);"><b style="color:#3a6af0">Home &amp; Kitchen:</b> Sales grew steadily at &gt;29% YoY</span>
<span class="t" style="left:777.80px;top:220.00px;font-size:6.6px;line-height:7px;color:#e4e4e4;transform:scaleX(0.9728);">across all regions. Email sales rose over 100% in 2018,</span>
<span class="t" style="left:777.80px;top:229.00px;font-size:6.6px;line-height:7px;color:#e4e4e4;transform:scaleX(1.0040);">showing <b style="color:#fff">strong potential</b>, while Fax declined and</span>
<span class="t" style="left:777.80px;top:237.00px;font-size:6.6px;line-height:7px;color:#e4e4e4;transform:scaleX(0.9846);">Mail/Special had no sales. Resources should shift</span>
<span class="t" style="left:777.80px;top:246.00px;font-size:6.6px;line-height:7px;color:#e4e4e4;transform:scaleX(1.0040);">from weak channels to <b style="color:#3a6af0">Email, Web, Telephone, and</b></span>
<span class="t" style="left:777.80px;top:255.00px;font-size:6.6px;line-height:7px;color:#e4e4e4;transform:scaleX(0.9225);"><b style="color:#3a6af0">Sales Visits.</b></span>
<span class="t" style="left:777.80px;top:269.00px;font-size:6.6px;line-height:7px;color:#e4e4e4;transform:scaleX(0.9646);"><b style="color:#3a6af0">Books:</b> Sales have been declining YoY across all</span>
<span class="t" style="left:777.80px;top:278.00px;font-size:6.6px;line-height:7px;color:#e4e4e4;transform:scaleX(1.0128);">regions but remain profitable, mainly in Europe and</span>
<span class="t" style="left:777.80px;top:287.00px;font-size:6.6px;line-height:7px;color:#e4e4e4;transform:scaleX(1.0115);">North America. Since most orders come from the</span>
<span class="t" style="left:777.80px;top:296.00px;font-size:6.6px;line-height:7px;color:#e4e4e4;transform:scaleX(0.9925);">growing Web channel, <b style="color:#3a6af0">focusing on Web sales</b> and</span>
<span class="t" style="left:777.80px;top:304.00px;font-size:6.6px;line-height:7px;color:#e4e4e4;transform:scaleX(1.0089);">reinvesting savings from other channels into online</span>
<span class="t" style="left:777.80px;top:313.00px;font-size:6.6px;line-height:7px;color:#e4e4e4;transform:scaleX(1.0196);">promotions is recommended.</span>
<span class="t" style="left:80.00px;top:214.00px;font-size:5.6px;line-height:6px;color:#e0e0e0;transform:scaleX(1.0186);">Monthly Sales Performance</span>
<span class="t" style="left:89.80px;top:235.00px;font-size:15.2px;line-height:17px;color:#e8e8e8;transform:scaleX(0.9029);">$1.069 t...</span>
<span class="t" style="left:96.85px;top:254.00px;font-size:5.6px;line-height:6px;color:#e0e0e0;transform:scaleX(0.9815);">Sales Performance</span>
<span class="t" style="left:90.44px;top:348.00px;font-size:3.8px;line-height:4px;color:#dcdcdc;transform:scaleX(1.0040);">January</span>
<span class="t" style="left:132.60px;top:348.00px;font-size:3.8px;line-height:4px;color:#dcdcdc;transform:scaleX(1.0040);">February</span>
<span class="t" style="left:179.32px;top:348.00px;font-size:3.8px;line-height:4px;color:#dcdcdc;transform:scaleX(1.0040);">March</span>
<span class="t" style="left:224.70px;top:348.00px;font-size:3.8px;line-height:4px;color:#dcdcdc;transform:scaleX(1.0040);">April</span>
<span class="t" style="left:268.51px;top:348.00px;font-size:3.8px;line-height:4px;color:#dcdcdc;transform:scaleX(1.0040);">May</span>
<span class="t" style="left:312.08px;top:348.00px;font-size:3.8px;line-height:4px;color:#dcdcdc;transform:scaleX(1.0040);">June</span>
<span class="t" style="left:356.12px;top:348.00px;font-size:3.8px;line-height:4px;color:#dcdcdc;transform:scaleX(1.0040);">July</span>
<span class="t" style="left:397.19px;top:348.00px;font-size:3.8px;line-height:4px;color:#dcdcdc;transform:scaleX(1.0040);">August</span>
<span class="t" style="left:437.71px;top:348.00px;font-size:3.8px;line-height:4px;color:#dcdcdc;transform:scaleX(1.0040);">September</span>
<span class="t" style="left:483.94px;top:348.00px;font-size:3.8px;line-height:4px;color:#dcdcdc;transform:scaleX(1.0040);">October</span>
<span class="t" style="left:525.84px;top:348.00px;font-size:3.8px;line-height:4px;color:#dcdcdc;transform:scaleX(1.0040);">November</span>
<span class="t" style="left:569.74px;top:348.00px;font-size:3.8px;line-height:4px;color:#dcdcdc;transform:scaleX(1.0040);">December</span>
<span class="t" style="left:89.80px;top:274.00px;font-size:3.6px;line-height:4px;color:#f4f6ff;z-index:5;transform:scaleX(1.0411);">88,9 triệu</span>
<span class="t" style="left:132.60px;top:333.00px;font-size:3.6px;line-height:4px;color:#f4f6ff;z-index:5;transform:scaleX(1.1278);">79,8 triệu</span>
<span class="t" style="left:176.70px;top:227.00px;font-size:3.6px;line-height:4px;color:#f4f6ff;z-index:5;transform:scaleX(1.0745);">94,6 triệu</span>
<span class="t" style="left:220.60px;top:295.00px;font-size:3.6px;line-height:4px;color:#f4f6ff;z-index:5;transform:scaleX(1.0945);">86,9 triệu</span>
<span class="t" style="left:263.90px;top:231.00px;font-size:3.6px;line-height:4px;color:#f4f6ff;z-index:5;transform:scaleX(1.0945);">95,8 triệu</span>
<span class="t" style="left:307.80px;top:289.00px;font-size:3.6px;line-height:4px;color:#f4f6ff;z-index:5;transform:scaleX(1.1078);">87,8 triệu</span>
<span class="t" style="left:351.50px;top:251.00px;font-size:3.6px;line-height:4px;color:#f4f6ff;z-index:5;transform:scaleX(1.1145);">93,7 triệu</span>
<span class="t" style="left:395.40px;top:267.00px;font-size:3.6px;line-height:4px;color:#f4f6ff;z-index:5;transform:scaleX(1.0745);">90,0 triệu</span>
<span class="t" style="left:439.40px;top:315.00px;font-size:3.6px;line-height:4px;color:#f4f6ff;z-index:5;transform:scaleX(1.0945);">83,7 triệu</span>
<span class="t" style="left:482.60px;top:263.00px;font-size:3.6px;line-height:4px;color:#f4f6ff;z-index:5;transform:scaleX(1.1212);">90,7 triệu</span>
<span class="t" style="left:526.90px;top:316.00px;font-size:3.6px;line-height:4px;color:#f4f6ff;z-index:5;transform:scaleX(1.1212);">83,4 triệu</span>
<span class="t" style="left:570.50px;top:247.00px;font-size:3.6px;line-height:4px;color:#f4f6ff;z-index:5;transform:scaleX(1.0945);">93,3 triệu</span>
<span class="t" style="left:80.00px;top:373.00px;font-size:5.6px;line-height:6px;color:#1b1b1b;transform:scaleX(1.0296);">TotalRev theo Country</span>
<span class="t" style="left:89.90px;top:430.00px;font-size:3.8px;line-height:4px;color:#f4f4f4;font-weight:bold;transform:scaleX(0.8676);">BẮC MỸ</span>
<span class="t" style="left:197.60px;top:434.00px;font-size:3.8px;line-height:4px;color:#f4f4f4;font-weight:bold;transform:scaleX(1.0162);">CHÂU ÂU</span>
<span class="t" style="left:270.90px;top:428.00px;font-size:3.8px;line-height:4px;color:#f4f4f4;font-weight:bold;transform:scaleX(0.9752);">CHÂU Á</span>
<span class="t" style="left:198.10px;top:482.00px;font-size:3.8px;line-height:4px;color:#f4f4f4;font-weight:bold;transform:scaleX(1.0040);">CHÂU PHI</span>
<span class="t" style="left:132.50px;top:502.00px;font-size:3.8px;line-height:4px;color:#f4f4f4;font-weight:bold;transform:scaleX(0.9217);">NAM MỸ</span>
<span class="t" style="left:299.00px;top:508.00px;font-size:3.8px;line-height:4px;color:#f4f4f4;font-weight:bold;transform:scaleX(0.6240);">CHÂU ĐẠI DƯƠNG</span>
<span class="t" style="left:139.80px;top:454.00px;font-size:4.4px;line-height:5px;color:#e4e8f0;transform:scaleX(0.9295);">Đại Tây</span>
<span class="t" style="left:143.81px;top:459.00px;font-size:4.2px;line-height:5px;color:#e4e8f0;transform:scaleX(1.0040);">Tây</span>
<span class="t" style="left:141.70px;top:463.00px;font-size:4.2px;line-height:5px;color:#c4c8d4;transform:scaleX(0.8312);">Dương</span>
<span class="t" style="left:248.00px;top:504.00px;font-size:4.4px;line-height:5px;color:#e4e8f0;transform:scaleX(0.9014);">Ấn Độ</span>
<span class="t" style="left:248.80px;top:509.00px;font-size:4.4px;line-height:5px;color:#dde2ec;transform:scaleX(0.8072);">Dương</span>
<span class="t" style="left:84.60px;top:543.00px;font-size:3.4px;line-height:4px;color:#d8d8d8;transform:scaleX(0.7215);">Microsoft Bing</span>
<span class="t" style="left:272.60px;top:535.00px;font-size:2.9px;line-height:4px;color:#b8bcc4;transform:scaleX(0.9309);">© 2025 TomTom, Earthstar</span>
<span class="t" style="left:274.60px;top:539.00px;font-size:2.9px;line-height:4px;color:#b8bcc4;transform:scaleX(0.9048);">Geographics SIO, © 2025</span>
<span class="t" style="left:277.60px;top:543.00px;font-size:2.9px;line-height:4px;color:#b8bcc4;transform:scaleX(0.9495);">Microsoft Corporation,</span>
<span class="t" style="left:282.60px;top:546.00px;font-size:2.9px;line-height:4px;color:#8aa0e0;transform:scaleX(0.9424);">© OpenStreetMap</span>
<span class="t" style="left:305.75px;top:535.00px;font-size:2.9px;line-height:4px;color:#8aa0e0;transform:scaleX(0.8254);">Terms</span>
<span class="t" style="left:370.00px;top:374.00px;font-size:5.6px;line-height:6px;color:#dcdcdc;transform:scaleX(1.0092);">Sales by Country</span>
<span class="t" style="left:371.10px;top:384.00px;font-size:4.0px;line-height:5px;color:#eef2fa;transform:scaleX(1.0040);">United States</span>
<span class="t" style="left:371.10px;top:466.00px;font-size:3.6px;line-height:4px;color:#e4eaf6;transform:scaleX(0.9242);">211,93 triệu</span>
<span class="t" style="left:371.10px;top:472.00px;font-size:4.0px;line-height:5px;color:#eef2fa;transform:scaleX(1.0040);">Japan</span>
<span class="t" style="left:371.10px;top:506.00px;font-size:3.6px;line-height:4px;color:#e4eaf6;transform:scaleX(1.0186);">98,99 triệu</span>
<span class="t" style="left:371.10px;top:513.00px;font-size:4.0px;line-height:5px;color:#eef2fa;transform:scaleX(1.0040);">Canada</span>
<span class="t" style="left:371.10px;top:545.00px;font-size:3.6px;line-height:4px;color:#e4eaf6;transform:scaleX(1.0186);">93,82 triệu</span>
<span class="t" style="left:456.60px;top:384.00px;font-size:4.0px;line-height:5px;color:#eef2fa;transform:scaleX(1.0040);">France</span>
<span class="t" style="left:456.60px;top:440.00px;font-size:3.6px;line-height:4px;color:#e4eaf6;transform:scaleX(1.0186);">86,14 triệu</span>
<span class="t" style="left:506.50px;top:384.00px;font-size:4.0px;line-height:5px;color:#eef2fa;transform:scaleX(1.0040);">China</span>
<span class="t" style="left:506.50px;top:440.00px;font-size:3.6px;line-height:4px;color:#e4eaf6;transform:scaleX(1.0186);">80,09 triệu</span>
<span class="t" style="left:552.20px;top:384.00px;font-size:4.0px;line-height:5px;color:#eef2fa;transform:scaleX(1.0040);">United Kingdom</span>
<span class="t" style="left:552.20px;top:440.00px;font-size:3.6px;line-height:4px;color:#e4eaf6;transform:scaleX(1.0186);">79,86 triệu</span>
<span class="t" style="left:456.60px;top:447.00px;font-size:4.0px;line-height:5px;color:#eef2fa;transform:scaleX(1.0040);">Germany</span>
<span class="t" style="left:456.60px;top:483.00px;font-size:3.6px;line-height:4px;color:#e4eaf6;transform:scaleX(1.0186);">78,84 triệu</span>
<span class="t" style="left:456.60px;top:490.00px;font-size:4.0px;line-height:5px;color:#eef2fa;transform:scaleX(1.0040);">Italy</span>
<span class="t" style="left:456.60px;top:516.00px;font-size:3.6px;line-height:4px;color:#e4eaf6;transform:scaleX(1.0186);">58,87 triệu</span>
<span class="t" style="left:456.60px;top:523.00px;font-size:4.0px;line-height:5px;color:#eef2fa;transform:scaleX(1.0040);">Mexico</span>
<span class="t" style="left:456.60px;top:545.00px;font-size:3.6px;line-height:4px;color:#e4eaf6;transform:scaleX(1.0186);">53,74 triệu</span>
<span class="t" style="left:521.00px;top:447.00px;font-size:4.0px;line-height:5px;color:#eef2fa;transform:scaleX(1.0040);">Spain</span>
<span class="t" style="left:521.00px;top:487.00px;font-size:3.6px;line-height:4px;color:#e4eaf6;transform:scaleX(1.0186);">51,44 triệu</span>
<span class="t" style="left:560.50px;top:447.00px;font-size:4.0px;line-height:5px;color:#eef2fa;transform:scaleX(1.0040);">India</span>
<span class="t" style="left:560.50px;top:487.00px;font-size:3.6px;line-height:4px;color:#e4eaf6;transform:scaleX(1.0186);">49,26 triệu</span>
<span class="t" style="left:521.00px;top:494.00px;font-size:4.0px;line-height:5px;color:#eef2fa;transform:scaleX(1.0040);">Brazil</span>
<span class="t" style="left:521.00px;top:517.00px;font-size:3.6px;line-height:4px;color:#e4eaf6;transform:scaleX(1.0186);">45,28 triệu</span>
<span class="t" style="left:521.00px;top:524.00px;font-size:4.0px;line-height:5px;color:#eef2fa;transform:scaleX(1.0040);">Belgium</span>
<span class="t" style="left:521.00px;top:545.00px;font-size:3.6px;line-height:4px;color:#e4eaf6;transform:scaleX(1.0186);">43,24 triệu</span>
<span class="t" style="left:575.00px;top:494.00px;font-size:4.0px;line-height:5px;color:#eef2fa;transform:scaleX(1.0040);">Australia</span>
<span class="t" style="left:575.00px;top:545.00px;font-size:3.6px;line-height:4px;color:#e4eaf6;transform:scaleX(1.0186);">37,51 triệu</span>
<span class="t" style="left:800.80px;top:369.00px;font-size:4.0px;line-height:5px;color:#f0f0f4;font-weight:bold;transform:scaleX(0.9154);">0,48 tỷ</span>
<span class="t" style="left:800.23px;top:472.00px;font-size:3.9px;line-height:5px;color:#dcdcdc;transform:scaleX(1.0040);">Europe</span>
<span class="t" style="left:827.70px;top:393.00px;font-size:4.0px;line-height:5px;color:#f0f0f4;font-weight:bold;transform:scaleX(0.9154);">0,30 tỷ</span>
<span class="t" style="left:821.07px;top:472.00px;font-size:3.9px;line-height:5px;color:#dcdcdc;transform:scaleX(1.0040);">North America</span>
<span class="t" style="left:854.30px;top:413.00px;font-size:4.0px;line-height:5px;color:#f0f0f4;font-weight:bold;transform:scaleX(0.9154);">0,23 tỷ</span>
<span class="t" style="left:856.21px;top:472.00px;font-size:3.9px;line-height:5px;color:#dcdcdc;transform:scaleX(1.0040);">Asia</span>
<span class="t" style="left:880.95px;top:447.00px;font-size:4.0px;line-height:5px;color:#f0f0f4;font-weight:bold;transform:scaleX(0.9154);">0,10 tỷ</span>
<span class="t" style="left:874.86px;top:472.00px;font-size:3.9px;line-height:5px;color:#dcdcdc;transform:scaleX(1.0040);">Latin America</span>
<span class="t" style="left:907.80px;top:463.00px;font-size:4.0px;line-height:5px;color:#f0f0f4;font-weight:bold;transform:scaleX(0.9154);">0,04 tỷ</span>
<span class="t" style="left:906.25px;top:472.00px;font-size:3.9px;line-height:5px;color:#dcdcdc;transform:scaleX(1.0040);">Oceania</span>
<span class="t" style="left:893.30px;top:410.00px;font-size:3.8px;line-height:4px;color:#dcdcdc;transform:scaleX(0.9876);">Average Sales: 214 triệu</span>
<span class="t" style="left:625.83px;top:525.32px;font-size:4.3px;line-height:5.159999999999999px;color:#dedede;transform-origin:100% 50%;transform:rotate(-35.5deg) scaleX(0.9);will-change:transform;">United St...</span>
<span class="t" style="left:643.99px;top:525.32px;font-size:4.3px;line-height:5.159999999999999px;color:#dedede;transform-origin:100% 50%;transform:rotate(-35.5deg) scaleX(0.9);will-change:transform;">Japan</span>
<span class="t" style="left:649.25px;top:525.32px;font-size:4.3px;line-height:5.159999999999999px;color:#dedede;transform-origin:100% 50%;transform:rotate(-35.5deg) scaleX(0.9);will-change:transform;">Canada</span>
<span class="t" style="left:659.54px;top:525.32px;font-size:4.3px;line-height:5.159999999999999px;color:#dedede;transform-origin:100% 50%;transform:rotate(-35.5deg) scaleX(0.9);will-change:transform;">France</span>
<span class="t" style="left:670.29px;top:525.32px;font-size:4.3px;line-height:5.159999999999999px;color:#dedede;transform-origin:100% 50%;transform:rotate(-35.5deg) scaleX(0.9);will-change:transform;">China</span>
<span class="t" style="left:659.55px;top:525.32px;font-size:4.3px;line-height:5.159999999999999px;color:#dedede;transform-origin:100% 50%;transform:rotate(-35.5deg) scaleX(0.9);will-change:transform;">United Kingdom</span>
<span class="t" style="left:681.06px;top:525.32px;font-size:4.3px;line-height:5.159999999999999px;color:#dedede;transform-origin:100% 50%;transform:rotate(-35.5deg) scaleX(0.9);will-change:transform;">Germany</span>
<span class="t" style="left:699.44px;top:525.32px;font-size:4.3px;line-height:5.159999999999999px;color:#dedede;transform-origin:100% 50%;transform:rotate(-35.5deg) scaleX(0.9);will-change:transform;">Italy</span>
<span class="t" style="left:702.32px;top:525.32px;font-size:4.3px;line-height:5.159999999999999px;color:#dedede;transform-origin:100% 50%;transform:rotate(-35.5deg) scaleX(0.9);will-change:transform;">Mexico</span>
<span class="t" style="left:713.55px;top:525.32px;font-size:4.3px;line-height:5.159999999999999px;color:#dedede;transform-origin:100% 50%;transform:rotate(-35.5deg) scaleX(0.9);will-change:transform;">Spain</span>
<span class="t" style="left:723.82px;top:525.32px;font-size:4.3px;line-height:5.159999999999999px;color:#dedede;transform-origin:100% 50%;transform:rotate(-35.5deg) scaleX(0.9);will-change:transform;">India</span>
<span class="t" style="left:731.00px;top:525.32px;font-size:4.3px;line-height:5.159999999999999px;color:#dedede;transform-origin:100% 50%;transform:rotate(-35.5deg) scaleX(0.9);will-change:transform;">Brazil</span>
<span class="t" style="left:734.83px;top:525.32px;font-size:4.3px;line-height:5.159999999999999px;color:#dedede;transform-origin:100% 50%;transform:rotate(-35.5deg) scaleX(0.9);will-change:transform;">Belgium</span>
<span class="t" style="left:742.25px;top:525.32px;font-size:4.3px;line-height:5.159999999999999px;color:#dedede;transform-origin:100% 50%;transform:rotate(-35.5deg) scaleX(0.9);will-change:transform;">Australia</span>
<span class="t" style="left:728.20px;top:489.00px;font-size:3.8px;line-height:4px;color:#dcdcdc;transform:scaleX(0.9719);">Average Sales: 76 triệu</span>
<svg style="position:absolute;left:0;top:0" width="954" height="578"><path d="M651.1,9.4 L653.0,11.4 L654.9,9.4" fill="none" stroke="#c8c8c8" stroke-width="0.7"/></svg>
<svg style="position:absolute;left:0;top:0" width="954" height="578"><path d="M782.7,9.4 L784.6,11.4 L786.5,9.4" fill="none" stroke="#c8c8c8" stroke-width="0.7"/></svg>
<svg style="position:absolute;left:0;top:0" width="954" height="578"><path d="M896.1,9.4 L898.0,11.4 L899.9,9.4" fill="none" stroke="#c8c8c8" stroke-width="0.7"/></svg>
<svg style="position:absolute;left:0;top:0" width="954" height="578">
<path d="M26.6,153 L33.2,159.2 L26.6,165.4" fill="none" stroke="#fff" stroke-width="2.1" stroke-linecap="butt"/>
<path d="M36.4,151.1 L44.5,159.2 L36.4,167.3" fill="none" stroke="#fff" stroke-width="3.6" stroke-linecap="butt"/>
<path d="M46.2,234.2 L46.2,253.6 L65.6,253.6" fill="none" stroke="#fff" stroke-width="2.5" stroke-linecap="butt" stroke-linejoin="miter"/>
<path d="M50.6,246.2 L55.6,241.2 L59.4,244.8 L65.4,239.2" fill="none" stroke="#fff" stroke-width="2.1" stroke-linecap="round" stroke-linejoin="miter"/>
<path d="M23.5,310.6 L30.8,310.8 L39.2,312 L42.3,313.9 L44.6,312.4 L48,311 L46.9,315.2 L45.3,318.2 L44.1,321.2 L43.2,323 L44.2,326.1 L43.4,326.1 L41.8,323.6 L39.2,323.5 L36.8,324.2 L35.6,325 L34.4,326.1 L33.2,324.2 L30.8,323 L27.1,321.8 L24.7,320 L22.9,317 L22.5,313.3 Z" fill="#e6e6ec"/>
<path d="M29.4,316.3 H38.2 M29.4,319.3 H38.2" stroke="#f8f8ff" stroke-width="1.1"/>
<path d="M28.4,358.8 L32,361.2 L37.4,356.4 L40.7,359 L45.5,355.2" fill="none" stroke="#dbe3ff" stroke-width="1.25"/>
</svg>
<svg style="position:absolute;left:0;top:0" width="954" height="578"><line x1="100" y1="134.6" x2="252.4" y2="110.9" stroke="#8792b0" stroke-width="0.55"/></svg>
<svg style="position:absolute;left:0;top:0" width="954" height="578" fill="none" stroke="#5c5c5c" stroke-width="0.5">
<path d="M684,75.7 H687 L689,80"/><path d="M729.5,80.6 H727 L724.5,84"/><path d="M647.7,108.6 H651 L654,110"/><path d="M682,169.6 H685 L686,166"/>
</svg>
<div style="position:absolute;left:87.8px;top:272.9px;width:19.60px;height:5.2px;background:#2a49b4"></div>
<div style="position:absolute;left:130.6px;top:332.0px;width:20.90px;height:5.2px;background:#2a49b4"></div>
<div style="position:absolute;left:174.7px;top:226.20000000000002px;width:20.10px;height:5.2px;background:#2a49b4"></div>
<div style="position:absolute;left:218.6px;top:293.79999999999995px;width:20.40px;height:5.2px;background:#2a49b4"></div>
<div style="position:absolute;left:261.9px;top:230.70000000000002px;width:20.40px;height:5.2px;background:#2a49b4"></div>
<div style="position:absolute;left:305.8px;top:288.7px;width:20.60px;height:5.2px;background:#2a49b4"></div>
<div style="position:absolute;left:349.5px;top:250.0px;width:20.70px;height:5.2px;background:#2a49b4"></div>
<div style="position:absolute;left:393.4px;top:266.29999999999995px;width:20.10px;height:5.2px;background:#2a49b4"></div>
<div style="position:absolute;left:437.4px;top:314.0px;width:20.40px;height:5.2px;background:#2a49b4"></div>
<div style="position:absolute;left:480.6px;top:261.79999999999995px;width:20.80px;height:5.2px;background:#2a49b4"></div>
<div style="position:absolute;left:524.9px;top:315.7px;width:20.80px;height:5.2px;background:#2a49b4"></div>
<div style="position:absolute;left:568.5px;top:246.20000000000002px;width:20.40px;height:5.2px;background:#2a49b4"></div>
<div style="position:absolute;left:786px;top:415.3px;width:149px;height:0.7px;background:#7c7c7c;opacity:0.6"></div>
<div style="position:absolute;left:641.8px;top:494.5px;width:126.3px;height:0.7px;background:#7c7c7c;opacity:0.6"></div>
</body></html>
